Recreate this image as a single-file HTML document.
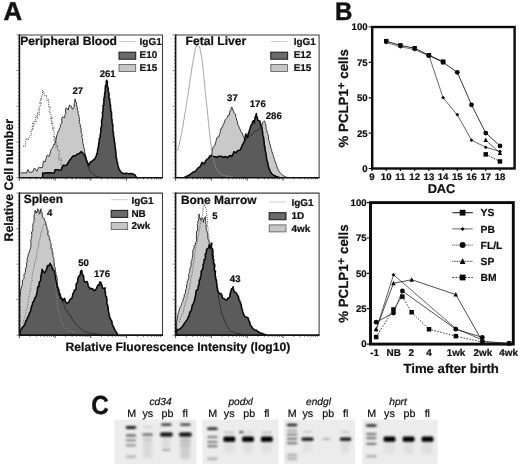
<!DOCTYPE html>
<html lang="en">
<head>
<meta charset="utf-8">
<title>Figure</title>
<style>
html,body{margin:0;padding:0;background:#fff;}
body{width:520px;height:464px;overflow:hidden;}
svg{display:block;text-rendering:geometricPrecision;}
text{stroke:#111;stroke-width:0.22px;}
</style>
</head>
<body>
<svg width="520" height="464" viewBox="0 0 520 464">
<defs><filter id="bl" x="-30%" y="-100%" width="160%" height="300%"><feGaussianBlur stdDeviation="1.0"/></filter><filter id="bl2" x="-5%" y="-5%" width="110%" height="110%"><feGaussianBlur stdDeviation="0.6"/></filter><filter id="bl3" x="-40%" y="-30%" width="180%" height="160%"><feGaussianBlur stdDeviation="1.6"/></filter></defs>
<rect width="520" height="464" fill="#ffffff"/>
<g font-family='"Liberation Sans", Arial, Helvetica, sans-serif' fill="#111">
<path d="M20.8 173.1 L22.7 172.8 L24.6 172.8 L26.5 173.0 L27.3 171.0 L28.0 169.6 L28.7 171.1 L29.5 172.3 L30.9 172.2 L32.3 172.1 L33.2 170.9 L33.7 169.0 L34.6 168.0 L35.7 169.2 L36.6 171.3 L37.7 169.8 L38.4 167.7 L39.7 167.3 L40.9 167.7 L42.4 167.5 L42.8 165.8 L43.0 163.8 L43.3 162.1 L43.9 161.0 L45.4 161.7 L45.6 160.3 L46.2 158.5 L46.6 156.5 L47.3 155.1 L49.1 156.5 L49.7 155.2 L50.1 153.1 L50.6 151.4 L51.1 149.4 L52.2 148.3 L53.1 146.5 L53.5 144.7 L54.6 144.5 L55.1 143.0 L55.6 141.3 L56.1 139.4 L56.4 137.0 L56.9 135.1 L57.5 133.5 L57.9 131.4 L59.1 130.8 L59.3 128.3 L60.3 127.4 L60.5 124.7 L61.5 123.9 L61.9 121.9 L61.7 118.5 L62.3 117.1 L64.8 117.6 L64.9 114.5 L65.8 113.7 L65.6 110.9 L65.6 108.5 L66.5 107.8 L68.2 110.0 L68.9 107.0 L69.4 105.1 L71.3 106.3 L72.5 109.3 L74.3 107.0 L74.1 103.8 L74.6 102.5 L74.8 100.6 L75.1 98.9 L75.6 102.0 L76.5 102.4 L76.4 104.7 L76.8 106.1 L77.4 107.5 L77.3 110.4 L78.2 111.2 L78.0 113.8 L78.8 114.4 L78.8 116.5 L79.3 117.8 L79.5 119.5 L79.2 122.3 L79.6 123.6 L80.4 124.4 L80.2 127.0 L81.0 127.6 L81.1 129.6 L81.1 132.1 L81.5 133.5 L82.2 134.5 L81.7 137.5 L82.5 138.3 L82.7 140.1 L82.6 142.5 L83.2 143.9 L83.5 145.8 L83.9 147.5 L84.4 149.4 L84.6 151.9 L85.2 153.4 L85.4 155.7 L85.9 157.2 L86.2 159.1 L86.3 161.4 L87.0 162.5 L87.4 164.2 L87.7 166.0 L88.4 167.1 L89.1 168.5 L89.7 170.7 L90.5 172.2 L92.1 173.2 L93.5 174.6 L95.3 175.8 L97.2 176.8 L98.7 176.8 L100.1 177.4 L101.5 177.7 L101.5 177.7 L20.8 177.7 Z" fill="#c9c9c9" stroke="none"/>
<path d="M23.1 146.5 L24.1 145.7 L25.2 146.0 L25.8 144.5 L25.5 141.3 L25.8 139.6 L26.8 139.8 L27.2 138.2 L28.4 139.1 L29.2 137.9 L30.0 136.5 L30.9 135.3 L31.4 134.2 L31.0 131.3 L31.7 131.0 L31.6 128.8 L33.1 129.9 L32.1 125.9 L33.6 127.1 L32.8 123.4 L34.0 124.1 L34.1 121.6 L34.8 120.8 L36.0 121.4 L35.4 116.9 L36.0 115.9 L37.7 117.9 L37.5 115.3 L37.3 112.5 L39.0 114.5 L39.4 113.1 L38.5 108.9 L39.4 108.8 L39.2 106.7 L39.7 105.9 L40.4 105.6 L39.9 102.9 L41.0 103.2 L40.2 100.0 L40.6 99.1 L41.8 99.7 L41.4 97.2 L41.8 96.1 L42.4 95.5 L42.5 94.0 L42.7 92.5 L42.5 90.1 L44.1 93.7 L44.9 95.8 L44.9 95.9 L45.8 95.9 L46.6 95.9 L46.9 97.0 L46.8 99.4 L47.1 100.5 L48.3 99.9 L48.5 101.6 L48.6 103.2 L48.7 105.0 L48.6 107.2 L49.3 107.4 L50.2 107.3 L49.2 111.0 L50.0 111.1 L50.1 112.6 L50.8 113.0 L50.7 114.9 L51.0 116.1 L50.6 118.5 L51.9 117.8 L51.4 120.4 L52.2 120.6 L51.6 123.4 L52.9 122.7 L52.8 124.7 L52.9 126.2 L52.6 128.4 L53.8 127.9 L53.4 130.4 L54.0 130.9 L54.2 132.4 L54.1 134.3 L53.6 137.0 L54.6 136.9 L54.2 139.6 L55.6 138.5 L54.7 142.1 L55.9 141.6 L56.5 142.2 L56.0 145.3 L56.1 147.1 L57.8 145.3 L57.7 147.4 L57.3 150.3 L58.2 150.2 L58.7 151.1 L59.3 151.6 L59.6 152.9 L58.9 156.0 L58.7 158.4 L58.9 159.7 L60.1 159.2 L61.2 158.7 L61.2 160.9 L60.9 163.7 L61.2 165.0 L62.1 165.5 L63.3 164.9 L63.4 167.2 L64.1 168.1 L64.9 169.8 L66.2 168.9 L66.4 173.4 L67.8 174.0 L69.5 170.2 L70.5 171.5 L71.3 175.6 L72.7 173.9" fill="none" stroke="#6e6e6e" stroke-width="1.15" stroke-dasharray="1.1 1.0"/>
<path d="M42.7 177.7 L42.7 176.1 L42.7 174.7 L42.7 173.1 L44.3 173.3 L46.0 172.8 L47.6 172.9 L49.3 172.8 L50.9 172.9 L52.6 173.3 L54.2 172.8 L54.7 171.5 L55.0 169.8 L56.6 169.7 L58.1 169.8 L59.6 170.2 L61.2 170.0 L61.7 168.2 L62.4 167.0 L63.1 165.6 L65.1 165.6 L67.0 164.8 L68.0 163.0 L69.0 161.3 L70.0 159.9 L71.0 158.8 L71.9 157.3 L73.7 155.7 L75.6 155.7 L77.3 154.2 L79.1 153.6 L80.2 152.6 L81.3 151.6 L82.4 152.5 L83.4 153.7 L84.4 155.1 L85.5 156.5 L85.9 158.8 L86.6 160.3 L87.2 162.0 L88.1 163.6 L88.8 165.3 L89.8 163.9 L90.5 161.8 L91.8 161.5 L92.9 160.3 L94.8 158.8 L95.4 157.6 L96.1 156.6 L96.5 154.9 L97.0 153.6 L97.4 152.2 L97.6 150.4 L97.9 148.6 L98.4 147.4 L98.5 145.6 L98.7 144.0 L98.9 142.4 L99.3 140.9 L99.3 139.1 L99.9 138.0 L100.3 136.8 L100.2 134.7 L100.6 133.4 L101.0 132.1 L100.7 129.6 L100.9 128.0 L101.5 126.9 L101.7 125.1 L101.7 123.2 L101.6 120.9 L101.9 119.4 L102.4 118.1 L102.5 116.5 L102.7 114.7 L102.4 112.4 L103.0 111.5 L102.9 109.3 L103.3 108.1 L103.0 105.7 L103.8 105.1 L103.7 102.9 L104.0 101.4 L103.8 99.0 L104.3 97.9 L104.5 96.2 L104.7 94.5 L104.8 92.4 L105.3 91.2 L105.2 88.9 L105.4 87.1 L105.6 85.2 L106.4 84.4 L106.2 81.8 L106.7 80.3 L107.4 81.8 L107.2 84.2 L107.4 85.7 L107.6 87.3 L108.3 88.2 L108.2 90.4 L108.5 92.0 L108.9 93.3 L109.2 94.9 L108.7 97.9 L109.6 98.4 L109.7 100.4 L110.0 102.1 L109.9 104.3 L110.6 105.3 L110.5 107.6 L110.8 109.1 L110.7 111.4 L111.5 112.0 L111.5 114.1 L111.6 116.0 L111.5 118.2 L112.0 119.4 L112.1 121.0 L112.2 122.9 L112.6 124.2 L112.9 125.6 L112.8 127.8 L112.7 130.0 L113.1 131.6 L113.5 132.9 L113.5 135.1 L113.6 137.0 L114.2 138.2 L114.2 140.3 L114.5 141.7 L114.7 143.2 L114.9 144.9 L115.1 146.5 L115.3 148.2 L115.6 149.6 L115.7 151.8 L116.0 153.4 L116.0 155.7 L116.3 157.5 L116.7 158.9 L116.8 161.2 L117.4 162.5 L117.7 164.4 L118.1 166.0 L118.5 167.4 L118.9 168.9 L119.7 170.3 L120.6 171.4 L121.5 172.7 L122.6 173.1 L124.2 173.7 L125.9 173.4 L127.5 173.5 L129.0 173.7 L130.6 173.5 L132.1 173.7 L133.4 174.3 L134.7 174.8 L135.8 176.4 L136.7 177.7 L136.7 177.7 L42.7 177.7 Z" fill="#5b5b5b" stroke="none"/>
<path d="M20.8 173.1 L22.7 172.8 L24.6 172.8 L26.5 173.0 L27.3 171.0 L28.0 169.6 L28.7 171.1 L29.5 172.3 L30.9 172.2 L32.3 172.1 L33.2 170.9 L33.7 169.0 L34.6 168.0 L35.7 169.2 L36.6 171.3 L37.7 169.8 L38.4 167.7 L39.7 167.3 L40.9 167.7 L42.4 167.5 L42.8 165.8 L43.0 163.8 L43.3 162.1 L43.9 161.0 L45.4 161.7 L45.6 160.3 L46.2 158.5 L46.6 156.5 L47.3 155.1 L49.1 156.5 L49.7 155.2 L50.1 153.1 L50.6 151.4 L51.1 149.4 L52.2 148.3 L53.1 146.5 L53.5 144.7 L54.6 144.5 L55.1 143.0 L55.6 141.3 L56.1 139.4 L56.4 137.0 L56.9 135.1 L57.5 133.5 L57.9 131.4 L59.1 130.8 L59.3 128.3 L60.3 127.4 L60.5 124.7 L61.5 123.9 L61.9 121.9 L61.7 118.5 L62.3 117.1 L64.8 117.6 L64.9 114.5 L65.8 113.7 L65.6 110.9 L65.6 108.5 L66.5 107.8 L68.2 110.0 L68.9 107.0 L69.4 105.1 L71.3 106.3 L72.5 109.3 L74.3 107.0 L74.1 103.8 L74.6 102.5 L74.8 100.6 L75.1 98.9 L75.6 102.0 L76.5 102.4 L76.4 104.7 L76.8 106.1 L77.4 107.5 L77.3 110.4 L78.2 111.2 L78.0 113.8 L78.8 114.4 L78.8 116.5 L79.3 117.8 L79.5 119.5 L79.2 122.3 L79.6 123.6 L80.4 124.4 L80.2 127.0 L81.0 127.6 L81.1 129.6 L81.1 132.1 L81.5 133.5 L82.2 134.5 L81.7 137.5 L82.5 138.3 L82.7 140.1 L82.6 142.5 L83.2 143.9 L83.5 145.8 L83.9 147.5 L84.4 149.4 L84.6 151.9 L85.2 153.4 L85.4 155.7 L85.9 157.2 L86.2 159.1 L86.3 161.4 L87.0 162.5 L87.4 164.2 L87.7 166.0 L88.4 167.1 L89.1 168.5 L89.7 170.7 L90.5 172.2 L92.1 173.2 L93.5 174.6 L95.3 175.8 L97.2 176.8 L98.7 176.8 L100.1 177.4 L101.5 177.7" fill="none" stroke="#2c2c2c" stroke-width="0.95" stroke-linejoin="round"/>
<path d="M42.7 177.7 L42.7 176.1 L42.7 174.7 L42.7 173.1 L44.3 173.3 L46.0 172.8 L47.6 172.9 L49.3 172.8 L50.9 172.9 L52.6 173.3 L54.2 172.8 L54.7 171.5 L55.0 169.8 L56.6 169.7 L58.1 169.8 L59.6 170.2 L61.2 170.0 L61.7 168.2 L62.4 167.0 L63.1 165.6 L65.1 165.6 L67.0 164.8 L68.0 163.0 L69.0 161.3 L70.0 159.9 L71.0 158.8 L71.9 157.3 L73.7 155.7 L75.6 155.7 L77.3 154.2 L79.1 153.6 L80.2 152.6 L81.3 151.6 L82.4 152.5 L83.4 153.7 L84.4 155.1 L85.5 156.5 L85.9 158.8 L86.6 160.3 L87.2 162.0 L88.1 163.6 L88.8 165.3 L89.8 163.9 L90.5 161.8 L91.8 161.5 L92.9 160.3 L94.8 158.8 L95.4 157.6 L96.1 156.6 L96.5 154.9 L97.0 153.6 L97.4 152.2 L97.6 150.4 L97.9 148.6 L98.4 147.4 L98.5 145.6 L98.7 144.0 L98.9 142.4 L99.3 140.9 L99.3 139.1 L99.9 138.0 L100.3 136.8 L100.2 134.7 L100.6 133.4 L101.0 132.1 L100.7 129.6 L100.9 128.0 L101.5 126.9 L101.7 125.1 L101.7 123.2 L101.6 120.9 L101.9 119.4 L102.4 118.1 L102.5 116.5 L102.7 114.7 L102.4 112.4 L103.0 111.5 L102.9 109.3 L103.3 108.1 L103.0 105.7 L103.8 105.1 L103.7 102.9 L104.0 101.4 L103.8 99.0 L104.3 97.9 L104.5 96.2 L104.7 94.5 L104.8 92.4 L105.3 91.2 L105.2 88.9 L105.4 87.1 L105.6 85.2 L106.4 84.4 L106.2 81.8 L106.7 80.3 L107.4 81.8 L107.2 84.2 L107.4 85.7 L107.6 87.3 L108.3 88.2 L108.2 90.4 L108.5 92.0 L108.9 93.3 L109.2 94.9 L108.7 97.9 L109.6 98.4 L109.7 100.4 L110.0 102.1 L109.9 104.3 L110.6 105.3 L110.5 107.6 L110.8 109.1 L110.7 111.4 L111.5 112.0 L111.5 114.1 L111.6 116.0 L111.5 118.2 L112.0 119.4 L112.1 121.0 L112.2 122.9 L112.6 124.2 L112.9 125.6 L112.8 127.8 L112.7 130.0 L113.1 131.6 L113.5 132.9 L113.5 135.1 L113.6 137.0 L114.2 138.2 L114.2 140.3 L114.5 141.7 L114.7 143.2 L114.9 144.9 L115.1 146.5 L115.3 148.2 L115.6 149.6 L115.7 151.8 L116.0 153.4 L116.0 155.7 L116.3 157.5 L116.7 158.9 L116.8 161.2 L117.4 162.5 L117.7 164.4 L118.1 166.0 L118.5 167.4 L118.9 168.9 L119.7 170.3 L120.6 171.4 L121.5 172.7 L122.6 173.1 L124.2 173.7 L125.9 173.4 L127.5 173.5 L129.0 173.7 L130.6 173.5 L132.1 173.7 L133.4 174.3 L134.7 174.8 L135.8 176.4 L136.7 177.7" fill="none" stroke="#0a0a0a" stroke-width="1.6" stroke-linejoin="round"/>
<path d="M19.4 34.9 H162.5 V177.7" fill="none" stroke="#3c3c3c" stroke-width="1.05"/>
<path d="M19.4 34.4 V177.7 H163.0" fill="none" stroke="#111" stroke-width="1.6"/>
<path d="M19.4 177.7 v3.0 M30.1 177.7 v1.6 M36.4 177.7 v1.6 M40.9 177.7 v1.6 M44.4 177.7 v1.6 M47.2 177.7 v1.6 M49.6 177.7 v1.6 M51.6 177.7 v1.6 M53.5 177.7 v1.6 M55.1 177.7 v3.0 M65.8 177.7 v1.6 M72.1 177.7 v1.6 M76.6 177.7 v1.6 M80.1 177.7 v1.6 M82.9 177.7 v1.6 M85.3 177.7 v1.6 M87.3 177.7 v1.6 M89.2 177.7 v1.6 M90.8 177.7 v3.0 M101.5 177.7 v1.6 M107.8 177.7 v1.6 M112.3 177.7 v1.6 M115.8 177.7 v1.6 M118.6 177.7 v1.6 M121.0 177.7 v1.6 M123.0 177.7 v1.6 M124.9 177.7 v1.6 M126.5 177.7 v3.0 M137.2 177.7 v1.6 M143.5 177.7 v1.6 M148.0 177.7 v1.6 M151.5 177.7 v1.6 M154.3 177.7 v1.6 M156.7 177.7 v1.6 M158.7 177.7 v1.6 M160.6 177.7 v1.6 " stroke="#222" stroke-width="0.8" fill="none"/>
<path d="M19.4 177.7 h-3.0 M19.4 174.1 h-1.6 M19.4 170.6 h-1.6 M19.4 167.0 h-1.6 M19.4 163.4 h-1.6 M19.4 159.8 h-1.6 M19.4 156.3 h-1.6 M19.4 152.7 h-1.6 M19.4 149.1 h-1.6 M19.4 145.6 h-1.6 M19.4 142.0 h-3.0 M19.4 138.4 h-1.6 M19.4 134.9 h-1.6 M19.4 131.3 h-1.6 M19.4 127.7 h-1.6 M19.4 124.2 h-1.6 M19.4 120.6 h-1.6 M19.4 117.0 h-1.6 M19.4 113.4 h-1.6 M19.4 109.9 h-1.6 M19.4 106.3 h-3.0 M19.4 102.7 h-1.6 M19.4 99.2 h-1.6 M19.4 95.6 h-1.6 M19.4 92.0 h-1.6 M19.4 88.5 h-1.6 M19.4 84.9 h-1.6 M19.4 81.3 h-1.6 M19.4 77.7 h-1.6 M19.4 74.2 h-1.6 M19.4 70.6 h-3.0 M19.4 67.0 h-1.6 M19.4 63.5 h-1.6 M19.4 59.9 h-1.6 M19.4 56.3 h-1.6 M19.4 52.8 h-1.6 M19.4 49.2 h-1.6 M19.4 45.6 h-1.6 M19.4 42.0 h-1.6 M19.4 38.5 h-1.6 M19.4 34.9 h-3.0 " stroke="#333" stroke-width="0.6" fill="none"/>
<text x="20.2" y="45.3" font-size="12.1" font-weight="bold" font-style="normal" text-anchor="start" >Peripheral Blood</text>
<line x1="119.0" y1="41.5" x2="135.7" y2="41.5" stroke="#cccccc" stroke-width="1"/>
<rect x="119.0" y="52.2" width="16.7" height="7" fill="#6a6a6a" stroke="#222" stroke-width="1.1"/>
<rect x="119.0" y="64.4" width="16.7" height="7" fill="#c6c6c6" stroke="#555" stroke-width="0.8"/>
<text x="139.6" y="45.3" font-size="9.95" font-weight="bold" font-style="normal" text-anchor="start" >IgG1</text>
<text x="139.6" y="58.3" font-size="9.95" font-weight="bold" font-style="normal" text-anchor="start" >E10</text>
<text x="139.6" y="71.2" font-size="9.95" font-weight="bold" font-style="normal" text-anchor="start" >E15</text>
<text x="77.8" y="93.6" font-size="9.6" font-weight="bold" font-style="normal" text-anchor="middle" >27</text>
<text x="107.7" y="77.0" font-size="9.6" font-weight="bold" font-style="normal" text-anchor="middle" >261</text>
<path d="M211.3 156.3 L211.5 154.4 L212.0 153.1 L212.3 151.4 L212.5 149.6 L212.7 147.7 L214.0 146.7 L215.0 145.1 L215.4 143.1 L216.0 141.5 L216.4 139.7 L216.8 137.8 L218.0 137.1 L219.2 136.4 L219.3 134.3 L220.1 133.6 L220.3 131.5 L220.7 130.0 L221.0 128.3 L222.2 127.7 L222.8 125.6 L223.6 124.1 L224.5 122.2 L225.2 119.6 L226.5 118.5 L227.6 117.2 L228.1 115.2 L229.3 115.1 L229.6 112.8 L230.0 110.9 L231.0 110.3 L231.1 107.7 L232.1 107.3 L232.4 108.2 L232.9 109.9 L233.5 111.2 L234.0 113.0 L234.8 113.5 L235.7 114.3 L235.6 117.2 L236.4 117.9 L236.5 120.2 L237.3 121.1 L237.6 123.9 L238.3 125.5 L239.1 127.1 L239.8 128.8 L240.6 130.4 L241.2 132.3 L242.2 132.9 L242.8 134.8 L243.3 136.7 L244.2 137.3 L244.4 139.6 L245.0 140.9 L246.4 138.8 L247.6 137.1 L249.1 136.2 L250.5 135.0 L252.1 135.0 L253.3 133.0 L254.6 131.4 L256.0 130.6 L257.3 130.7 L258.5 130.1 L259.3 128.2 L260.4 127.1 L261.2 125.8 L262.1 124.7 L262.6 122.4 L263.6 121.6 L264.6 120.9 L264.9 122.6 L265.5 123.7 L265.8 125.3 L266.1 127.1 L266.1 129.3 L266.8 130.3 L267.0 132.1 L267.5 133.4 L268.0 134.8 L268.4 136.4 L268.5 138.9 L268.9 140.5 L269.5 141.8 L269.8 143.8 L270.3 145.3 L270.6 147.0 L271.0 148.5 L271.6 149.5 L271.8 151.5 L272.3 152.9 L272.8 154.1 L273.2 155.8 L273.7 157.0 L274.2 158.4 L274.7 159.9 L275.1 161.9 L275.8 163.0 L276.4 164.5 L276.9 166.8 L277.6 168.5 L278.4 170.1 L279.4 171.9 L280.5 173.1 L281.6 174.2 L282.6 175.3 L284.2 176.2 L285.8 177.0 L287.9 177.5 L287.9 177.7 L211.3 177.7 Z" fill="#c9c9c9" stroke="none"/>
<path d="M184.2 177.5 L185.8 176.8 L187.4 176.0 L189.0 175.2 L190.6 174.1 L191.6 173.3 L192.7 172.2 L194.3 171.7 L195.8 170.9 L196.9 169.4 L198.0 167.9 L200.1 166.7 L200.8 165.5 L201.4 163.8 L202.1 162.4 L204.3 164.0 L205.0 162.3 L205.7 160.9 L206.5 159.7 L208.5 158.3 L209.5 156.5 L210.8 155.6 L212.3 155.9 L213.8 156.5 L215.4 156.7 L217.0 157.4 L218.6 156.2 L220.2 156.3 L221.8 156.5 L223.4 157.5 L225.5 156.5 L226.6 157.0 L227.7 157.6 L228.6 156.6 L229.8 155.5 L231.8 156.5 L232.5 154.9 L233.3 153.7 L233.8 151.8 L236.1 152.8 L237.1 151.4 L238.3 150.3 L240.3 150.0 L240.9 148.5 L241.6 146.9 L242.2 145.3 L243.0 143.8 L243.8 142.3 L244.6 140.8 L244.8 138.7 L245.2 137.2 L245.5 135.5 L245.9 134.0 L246.7 136.1 L247.7 137.4 L248.0 135.2 L248.4 133.2 L249.1 132.0 L249.5 130.1 L250.2 128.5 L250.7 126.1 L251.5 124.7 L252.2 123.7 L252.5 121.9 L253.2 120.9 L253.9 120.9 L254.3 123.2 L254.5 120.5 L255.0 119.2 L255.0 117.3 L255.8 116.5 L256.0 114.8 L256.4 113.5 L256.4 114.9 L256.8 116.7 L257.4 117.8 L257.6 119.9 L258.8 120.8 L260.0 121.2 L260.2 123.7 L261.0 124.8 L261.6 126.4 L262.0 128.2 L262.2 130.4 L262.7 132.0 L262.7 134.5 L262.9 136.1 L263.5 137.1 L263.7 138.6 L263.8 140.5 L264.1 141.8 L264.2 143.7 L264.4 145.6 L264.9 146.9 L265.1 148.7 L265.2 150.7 L265.7 152.1 L266.0 153.7 L266.1 155.7 L266.5 157.4 L266.7 159.1 L267.1 160.7 L267.6 162.4 L268.0 164.4 L268.3 166.3 L268.8 168.0 L269.5 169.3 L270.0 170.7 L270.6 172.2 L271.8 173.7 L273.1 175.0 L274.7 175.7 L276.2 176.5 L277.8 176.9 L279.4 177.5 L279.4 177.7 L184.2 177.7 Z" fill="#5b5b5b" stroke="none"/>
<path d="M211.3 156.3 L211.5 154.4 L212.0 153.1 L212.3 151.4 L212.5 149.6 L212.7 147.7 L214.0 146.7 L215.0 145.1 L215.4 143.1 L216.0 141.5 L216.4 139.7 L216.8 137.8 L218.0 137.1 L219.2 136.4 L219.3 134.3 L220.1 133.6 L220.3 131.5 L220.7 130.0 L221.0 128.3 L222.2 127.7 L222.8 125.6 L223.6 124.1 L224.5 122.2 L225.2 119.6 L226.5 118.5 L227.6 117.2 L228.1 115.2 L229.3 115.1 L229.6 112.8 L230.0 110.9 L231.0 110.3 L231.1 107.7 L232.1 107.3 L232.4 108.2 L232.9 109.9 L233.5 111.2 L234.0 113.0 L234.8 113.5 L235.7 114.3 L235.6 117.2 L236.4 117.9 L236.5 120.2 L237.3 121.1 L237.6 123.9 L238.3 125.5 L239.1 127.1 L239.8 128.8 L240.6 130.4 L241.2 132.3 L242.2 132.9 L242.8 134.8 L243.3 136.7 L244.2 137.3 L244.4 139.6 L245.0 140.9 L246.4 138.8 L247.6 137.1 L249.1 136.2 L250.5 135.0 L252.1 135.0 L253.3 133.0 L254.6 131.4 L256.0 130.6 L257.3 130.7 L258.5 130.1 L259.3 128.2 L260.4 127.1 L261.2 125.8 L262.1 124.7 L262.6 122.4 L263.6 121.6 L264.6 120.9 L264.9 122.6 L265.5 123.7 L265.8 125.3 L266.1 127.1 L266.1 129.3 L266.8 130.3 L267.0 132.1 L267.5 133.4 L268.0 134.8 L268.4 136.4 L268.5 138.9 L268.9 140.5 L269.5 141.8 L269.8 143.8 L270.3 145.3 L270.6 147.0 L271.0 148.5 L271.6 149.5 L271.8 151.5 L272.3 152.9 L272.8 154.1 L273.2 155.8 L273.7 157.0 L274.2 158.4 L274.7 159.9 L275.1 161.9 L275.8 163.0 L276.4 164.5 L276.9 166.8 L277.6 168.5 L278.4 170.1 L279.4 171.9 L280.5 173.1 L281.6 174.2 L282.6 175.3 L284.2 176.2 L285.8 177.0 L287.9 177.5" fill="none" stroke="#2c2c2c" stroke-width="0.95" stroke-linejoin="round"/>
<path d="M184.2 177.5 L185.8 176.8 L187.4 176.0 L189.0 175.2 L190.6 174.1 L191.6 173.3 L192.7 172.2 L194.3 171.7 L195.8 170.9 L196.9 169.4 L198.0 167.9 L200.1 166.7 L200.8 165.5 L201.4 163.8 L202.1 162.4 L204.3 164.0 L205.0 162.3 L205.7 160.9 L206.5 159.7 L208.5 158.3 L209.5 156.5 L210.8 155.6 L212.3 155.9 L213.8 156.5 L215.4 156.7 L217.0 157.4 L218.6 156.2 L220.2 156.3 L221.8 156.5 L223.4 157.5 L225.5 156.5 L226.6 157.0 L227.7 157.6 L228.6 156.6 L229.8 155.5 L231.8 156.5 L232.5 154.9 L233.3 153.7 L233.8 151.8 L236.1 152.8 L237.1 151.4 L238.3 150.3 L240.3 150.0 L240.9 148.5 L241.6 146.9 L242.2 145.3 L243.0 143.8 L243.8 142.3 L244.6 140.8 L244.8 138.7 L245.2 137.2 L245.5 135.5 L245.9 134.0 L246.7 136.1 L247.7 137.4 L248.0 135.2 L248.4 133.2 L249.1 132.0 L249.5 130.1 L250.2 128.5 L250.7 126.1 L251.5 124.7 L252.2 123.7 L252.5 121.9 L253.2 120.9 L253.9 120.9 L254.3 123.2 L254.5 120.5 L255.0 119.2 L255.0 117.3 L255.8 116.5 L256.0 114.8 L256.4 113.5 L256.4 114.9 L256.8 116.7 L257.4 117.8 L257.6 119.9 L258.8 120.8 L260.0 121.2 L260.2 123.7 L261.0 124.8 L261.6 126.4 L262.0 128.2 L262.2 130.4 L262.7 132.0 L262.7 134.5 L262.9 136.1 L263.5 137.1 L263.7 138.6 L263.8 140.5 L264.1 141.8 L264.2 143.7 L264.4 145.6 L264.9 146.9 L265.1 148.7 L265.2 150.7 L265.7 152.1 L266.0 153.7 L266.1 155.7 L266.5 157.4 L266.7 159.1 L267.1 160.7 L267.6 162.4 L268.0 164.4 L268.3 166.3 L268.8 168.0 L269.5 169.3 L270.0 170.7 L270.6 172.2 L271.8 173.7 L273.1 175.0 L274.7 175.7 L276.2 176.5 L277.8 176.9 L279.4 177.5" fill="none" stroke="#0a0a0a" stroke-width="1.6" stroke-linejoin="round"/>
<path d="M177.3 151.1 L177.9 149.8 L178.2 147.6 L178.7 145.8 L179.4 144.8 L179.5 142.7 L179.8 141.0 L180.3 139.6 L180.6 137.8 L181.1 136.4 L181.2 134.4 L181.8 133.1 L181.9 131.1 L182.2 129.6 L182.6 128.1 L182.8 126.3 L183.2 124.8 L183.4 123.0 L183.5 121.0 L184.1 119.8 L184.2 118.0 L184.4 116.2 L184.6 114.5 L185.1 113.2 L185.3 111.4 L185.7 109.9 L185.9 108.1 L186.2 106.6 L186.3 104.7 L186.7 103.1 L186.9 101.4 L187.1 99.6 L187.5 98.3 L187.6 96.3 L188.0 94.9 L188.3 93.3 L188.5 91.5 L188.6 89.5 L189.1 88.3 L189.3 86.5 L189.4 84.6 L189.6 82.9 L190.0 81.5 L190.0 79.5 L190.5 78.3 L190.6 76.5 L190.9 74.8 L191.1 73.1 L191.4 71.6 L191.7 70.0 L191.8 68.1 L192.1 66.4 L192.5 64.9 L192.7 63.1 L193.1 61.6 L193.3 59.9 L193.6 58.2 L193.9 56.6 L194.2 54.9 L194.4 53.0 L195.0 51.9 L195.2 49.8 L195.5 48.2 L195.9 46.5 L197.1 46.2 L198.3 45.4 L199.0 46.6 L199.9 48.2 L200.3 49.7 L200.4 51.8 L201.0 53.0 L201.2 54.9 L201.6 56.5 L201.8 58.1 L202.0 59.8 L202.2 61.4 L202.5 62.9 L202.6 64.9 L202.7 66.7 L202.9 68.2 L203.3 69.7 L203.3 71.6 L203.7 72.9 L203.7 74.8 L203.8 76.6 L203.9 78.3 L204.2 79.8 L204.2 81.6 L204.5 83.1 L204.7 84.8 L204.8 86.5 L204.9 88.3 L205.1 89.9 L205.4 91.4 L205.4 93.2 L205.6 94.8 L205.9 96.3 L205.9 98.2 L206.1 99.8 L206.3 101.4 L206.4 103.2 L206.8 104.4 L206.8 106.3 L207.0 108.1 L207.2 109.6 L207.4 111.1 L207.4 113.1 L207.7 114.6 L207.9 116.2 L208.1 117.7 L208.0 119.8 L208.4 121.2 L208.6 122.7 L208.7 124.4 L208.9 126.1 L208.9 128.1 L209.3 129.4 L209.4 131.1 L209.6 132.7 L209.7 134.5 L209.9 136.0 L210.1 137.8 L210.2 139.6 L210.3 141.4 L210.6 143.0 L211.0 144.3 L211.1 146.1 L211.2 148.0 L211.6 149.2 L211.8 151.0 L212.0 152.8 L212.3 154.4 L212.5 156.2 L212.8 157.9 L213.2 159.4 L213.8 160.9 L214.3 162.6 L214.9 164.2 L215.5 165.8 L215.9 167.8 L216.6 169.2 L217.5 171.1 L218.6 172.2 L219.9 173.0 L221.4 174.2 L223.1 175.2 L224.8 175.5 L226.4 176.3 L228.1 176.0 L229.7 177.1 L231.4 176.4 L233.1 177.3 L234.7 177.8 L236.4 177.3" fill="none" stroke="#8c8c8c" stroke-width="0.8" />
<path d="M175.6 34.9 H319.1 V177.7" fill="none" stroke="#3c3c3c" stroke-width="1.05"/>
<path d="M175.6 34.4 V177.7 H319.6" fill="none" stroke="#111" stroke-width="1.6"/>
<path d="M175.6 177.7 v3.0 M186.4 177.7 v1.6 M192.7 177.7 v1.6 M197.2 177.7 v1.6 M200.6 177.7 v1.6 M203.5 177.7 v1.6 M205.9 177.7 v1.6 M207.9 177.7 v1.6 M209.8 177.7 v1.6 M211.4 177.7 v3.0 M222.2 177.7 v1.6 M228.5 177.7 v1.6 M233.0 177.7 v1.6 M236.4 177.7 v1.6 M239.3 177.7 v1.6 M241.7 177.7 v1.6 M243.7 177.7 v1.6 M245.6 177.7 v1.6 M247.2 177.7 v3.0 M258.0 177.7 v1.6 M264.3 177.7 v1.6 M268.8 177.7 v1.6 M272.2 177.7 v1.6 M275.1 177.7 v1.6 M277.5 177.7 v1.6 M279.5 177.7 v1.6 M281.4 177.7 v1.6 M283.0 177.7 v3.0 M293.8 177.7 v1.6 M300.1 177.7 v1.6 M304.6 177.7 v1.6 M308.0 177.7 v1.6 M310.9 177.7 v1.6 M313.3 177.7 v1.6 M315.3 177.7 v1.6 M317.2 177.7 v1.6 " stroke="#222" stroke-width="0.8" fill="none"/>
<path d="M175.6 177.7 h-3.0 M175.6 174.1 h-1.6 M175.6 170.6 h-1.6 M175.6 167.0 h-1.6 M175.6 163.4 h-1.6 M175.6 159.8 h-1.6 M175.6 156.3 h-1.6 M175.6 152.7 h-1.6 M175.6 149.1 h-1.6 M175.6 145.6 h-1.6 M175.6 142.0 h-3.0 M175.6 138.4 h-1.6 M175.6 134.9 h-1.6 M175.6 131.3 h-1.6 M175.6 127.7 h-1.6 M175.6 124.2 h-1.6 M175.6 120.6 h-1.6 M175.6 117.0 h-1.6 M175.6 113.4 h-1.6 M175.6 109.9 h-1.6 M175.6 106.3 h-3.0 M175.6 102.7 h-1.6 M175.6 99.2 h-1.6 M175.6 95.6 h-1.6 M175.6 92.0 h-1.6 M175.6 88.5 h-1.6 M175.6 84.9 h-1.6 M175.6 81.3 h-1.6 M175.6 77.7 h-1.6 M175.6 74.2 h-1.6 M175.6 70.6 h-3.0 M175.6 67.0 h-1.6 M175.6 63.5 h-1.6 M175.6 59.9 h-1.6 M175.6 56.3 h-1.6 M175.6 52.8 h-1.6 M175.6 49.2 h-1.6 M175.6 45.6 h-1.6 M175.6 42.0 h-1.6 M175.6 38.5 h-1.6 M175.6 34.9 h-3.0 " stroke="#333" stroke-width="0.6" fill="none"/>
<text x="185.5" y="45.1" font-size="12.15" font-weight="bold" font-style="normal" text-anchor="start" >Fetal Liver</text>
<line x1="270.8" y1="41.5" x2="287.6" y2="41.5" stroke="#cccccc" stroke-width="1"/>
<rect x="270.8" y="52.2" width="16.8" height="7" fill="#6a6a6a" stroke="#222" stroke-width="1.1"/>
<rect x="270.8" y="64.4" width="16.8" height="7" fill="#c6c6c6" stroke="#555" stroke-width="0.8"/>
<text x="293.7" y="45.3" font-size="9.95" font-weight="bold" font-style="normal" text-anchor="start" >IgG1</text>
<text x="293.7" y="58.3" font-size="9.95" font-weight="bold" font-style="normal" text-anchor="start" >E12</text>
<text x="293.7" y="71.2" font-size="9.95" font-weight="bold" font-style="normal" text-anchor="start" >E15</text>
<text x="232.4" y="100.9" font-size="9.6" font-weight="bold" font-style="normal" text-anchor="middle" >37</text>
<text x="257.8" y="107.0" font-size="9.6" font-weight="bold" font-style="normal" text-anchor="middle" >176</text>
<text x="273.8" y="118.7" font-size="9.6" font-weight="bold" font-style="normal" text-anchor="middle" >286</text>
<path d="M19.8 334.6 L19.7 332.8 L19.7 331.0 L19.8 329.4 L19.8 327.7 L19.7 325.8 L19.7 324.1 L19.7 322.4 L19.9 320.9 L19.7 318.8 L19.9 317.4 L19.9 315.7 L19.6 313.6 L19.8 312.1 L19.8 310.3 L19.8 308.6 L20.0 307.3 L19.6 304.9 L19.5 303.1 L20.0 302.1 L19.7 299.9 L19.8 298.1 L20.0 296.6 L20.1 295.1 L20.6 294.1 L20.3 291.7 L20.7 290.0 L21.2 288.8 L21.5 287.1 L22.1 285.9 L22.4 284.1 L22.4 281.8 L22.7 279.9 L23.6 279.1 L24.1 277.6 L23.9 274.4 L24.8 273.8 L25.3 272.3 L25.6 270.2 L25.6 268.0 L26.4 267.2 L26.6 265.5 L26.5 263.0 L27.2 262.1 L27.1 259.8 L27.3 257.9 L27.9 256.7 L28.2 255.0 L28.6 253.4 L29.2 252.1 L29.7 250.7 L30.2 249.2 L30.6 247.5 L30.9 245.9 L31.0 243.8 L30.8 241.4 L30.8 239.6 L31.5 238.7 L31.6 236.9 L31.9 235.5 L31.6 233.0 L31.9 231.5 L32.8 230.9 L32.7 228.7 L33.0 227.2 L32.7 224.5 L33.2 223.3 L33.9 222.4 L33.9 220.2 L34.4 219.1 L33.9 216.2 L34.3 214.9 L34.9 213.8 L34.7 211.6 L35.3 210.4 L35.6 212.0 L36.6 213.0 L36.5 211.5 L37.8 212.0 L37.7 208.7 L38.8 210.3 L39.1 212.0 L39.3 214.2 L40.3 212.8 L40.5 210.4 L41.0 208.7 L41.1 211.1 L41.9 212.1 L42.2 214.2 L42.4 216.4 L43.0 218.1 L44.1 218.4 L44.7 220.1 L45.3 221.7 L45.8 224.9 L46.8 226.7 L46.8 228.6 L47.3 229.9 L48.0 230.7 L47.8 233.1 L47.8 235.1 L48.6 235.6 L49.2 236.7 L49.3 238.9 L49.8 240.4 L50.3 241.9 L50.8 243.3 L51.2 245.2 L50.9 248.2 L52.1 248.4 L52.0 251.0 L52.7 252.0 L53.0 253.7 L52.8 256.3 L53.5 257.2 L53.9 258.7 L53.9 260.8 L54.0 262.8 L54.4 264.2 L54.4 266.4 L55.1 267.4 L55.3 269.3 L55.4 271.3 L55.9 272.7 L56.0 274.8 L56.5 276.2 L57.1 277.5 L57.3 279.2 L57.1 281.7 L57.4 283.4 L57.6 285.3 L58.0 286.6 L58.3 288.2 L59.1 289.4 L59.2 292.1 L60.2 292.9 L60.5 295.1 L61.2 296.5 L61.6 298.6 L62.2 299.9 L62.8 301.6 L63.2 303.5 L63.9 304.8 L64.7 305.9 L65.1 308.0 L65.7 309.5 L66.5 310.9 L67.7 311.2 L68.3 313.2 L69.0 314.8 L70.1 315.3 L71.1 316.8 L72.0 319.1 L73.2 320.2 L74.2 321.8 L75.2 323.5 L76.4 324.4 L77.5 325.6 L78.6 327.0 L79.9 328.1 L81.3 329.5 L82.7 330.3 L84.1 331.3 L85.5 331.5 L86.9 332.4 L88.5 332.8 L90.1 333.0 L91.7 333.3 L93.3 333.8 L94.9 333.8 L96.5 334.0 L98.0 334.2 L99.6 334.6 L99.6 335.1 L19.8 335.1 Z" fill="#c9c9c9" stroke="none"/>
<path d="M19.7 334.6 L20.0 332.5 L20.3 330.5 L21.4 329.3 L22.4 327.4 L23.5 326.3 L24.4 325.0 L25.2 323.4 L25.7 321.1 L26.7 320.0 L27.3 318.4 L27.9 316.8 L28.7 315.9 L29.2 313.9 L29.8 312.3 L30.6 311.4 L30.9 309.4 L31.3 307.4 L31.8 305.8 L32.5 304.5 L32.7 302.3 L33.7 301.4 L34.4 299.9 L34.9 297.7 L35.8 296.7 L36.5 295.1 L36.8 292.7 L37.4 291.2 L37.5 288.5 L37.9 286.6 L39.1 286.4 L39.1 283.4 L39.5 281.7 L40.5 281.1 L40.8 279.2 L40.7 276.4 L41.3 275.1 L41.5 273.2 L41.9 271.5 L42.1 269.3 L43.5 271.8 L44.7 272.8 L45.6 271.4 L46.5 269.3 L47.1 267.5 L47.7 265.6 L49.1 265.6 L50.1 263.3 L50.4 264.4 L51.3 265.1 L51.8 266.7 L52.3 268.2 L53.2 270.1 L54.4 271.1 L54.6 273.4 L55.1 274.9 L55.4 276.4 L55.4 278.8 L55.9 280.0 L56.3 281.7 L56.7 283.1 L56.9 285.0 L57.1 286.9 L57.8 287.8 L58.4 289.1 L58.4 291.3 L59.0 292.7 L59.3 294.9 L60.2 295.4 L60.3 298.2 L61.8 298.3 L62.6 300.9 L63.6 299.6 L64.6 298.3 L65.2 301.0 L66.0 302.5 L67.0 303.4 L67.8 302.8 L69.0 302.0 L69.8 299.8 L70.9 298.8 L71.7 298.3 L72.3 296.9 L72.7 294.9 L73.1 293.3 L73.9 292.0 L74.4 290.1 L75.6 289.8 L76.1 288.4 L76.1 286.1 L76.2 283.9 L76.9 283.0 L77.6 282.2 L77.8 279.8 L78.1 277.8 L78.7 276.4 L79.7 275.8 L80.3 273.9 L80.7 271.4 L81.7 270.4 L81.9 272.0 L82.2 273.8 L82.8 275.0 L83.6 276.0 L83.7 278.5 L84.0 280.5 L84.5 282.3 L87.0 281.5 L87.4 282.4 L87.9 283.9 L88.2 286.0 L88.9 287.2 L90.0 288.6 L91.3 288.4 L92.9 289.1 L94.4 290.7 L95.4 290.0 L96.5 288.6 L97.3 286.3 L98.1 285.0 L99.4 285.3 L99.6 282.1 L101.0 282.6 L101.2 284.0 L102.0 285.4 L102.4 287.9 L103.8 288.5 L105.2 287.9 L104.8 291.3 L105.5 292.2 L105.4 294.4 L105.7 295.9 L106.4 296.7 L106.7 298.1 L107.0 299.9 L106.8 302.5 L107.1 304.3 L107.7 305.4 L108.0 307.0 L108.2 309.1 L108.4 311.2 L108.8 312.9 L109.2 314.7 L109.6 316.5 L110.1 317.9 L110.6 319.6 L111.4 320.4 L112.0 322.0 L112.2 324.3 L113.0 325.9 L113.7 327.4 L114.5 329.1 L115.5 330.8 L116.5 332.4 L117.6 334.6 L117.6 335.1 L19.7 335.1 Z" fill="#5b5b5b" stroke="none"/>
<path d="M19.8 334.6 L19.7 332.8 L19.7 331.0 L19.8 329.4 L19.8 327.7 L19.7 325.8 L19.7 324.1 L19.7 322.4 L19.9 320.9 L19.7 318.8 L19.9 317.4 L19.9 315.7 L19.6 313.6 L19.8 312.1 L19.8 310.3 L19.8 308.6 L20.0 307.3 L19.6 304.9 L19.5 303.1 L20.0 302.1 L19.7 299.9 L19.8 298.1 L20.0 296.6 L20.1 295.1 L20.6 294.1 L20.3 291.7 L20.7 290.0 L21.2 288.8 L21.5 287.1 L22.1 285.9 L22.4 284.1 L22.4 281.8 L22.7 279.9 L23.6 279.1 L24.1 277.6 L23.9 274.4 L24.8 273.8 L25.3 272.3 L25.6 270.2 L25.6 268.0 L26.4 267.2 L26.6 265.5 L26.5 263.0 L27.2 262.1 L27.1 259.8 L27.3 257.9 L27.9 256.7 L28.2 255.0 L28.6 253.4 L29.2 252.1 L29.7 250.7 L30.2 249.2 L30.6 247.5 L30.9 245.9 L31.0 243.8 L30.8 241.4 L30.8 239.6 L31.5 238.7 L31.6 236.9 L31.9 235.5 L31.6 233.0 L31.9 231.5 L32.8 230.9 L32.7 228.7 L33.0 227.2 L32.7 224.5 L33.2 223.3 L33.9 222.4 L33.9 220.2 L34.4 219.1 L33.9 216.2 L34.3 214.9 L34.9 213.8 L34.7 211.6 L35.3 210.4 L35.6 212.0 L36.6 213.0 L36.5 211.5 L37.8 212.0 L37.7 208.7 L38.8 210.3 L39.1 212.0 L39.3 214.2 L40.3 212.8 L40.5 210.4 L41.0 208.7 L41.1 211.1 L41.9 212.1 L42.2 214.2 L42.4 216.4 L43.0 218.1 L44.1 218.4 L44.7 220.1 L45.3 221.7 L45.8 224.9 L46.8 226.7 L46.8 228.6 L47.3 229.9 L48.0 230.7 L47.8 233.1 L47.8 235.1 L48.6 235.6 L49.2 236.7 L49.3 238.9 L49.8 240.4 L50.3 241.9 L50.8 243.3 L51.2 245.2 L50.9 248.2 L52.1 248.4 L52.0 251.0 L52.7 252.0 L53.0 253.7 L52.8 256.3 L53.5 257.2 L53.9 258.7 L53.9 260.8 L54.0 262.8 L54.4 264.2 L54.4 266.4 L55.1 267.4 L55.3 269.3 L55.4 271.3 L55.9 272.7 L56.0 274.8 L56.5 276.2 L57.1 277.5 L57.3 279.2 L57.1 281.7 L57.4 283.4 L57.6 285.3 L58.0 286.6 L58.3 288.2 L59.1 289.4 L59.2 292.1 L60.2 292.9 L60.5 295.1 L61.2 296.5 L61.6 298.6 L62.2 299.9 L62.8 301.6 L63.2 303.5 L63.9 304.8 L64.7 305.9 L65.1 308.0 L65.7 309.5 L66.5 310.9 L67.7 311.2 L68.3 313.2 L69.0 314.8 L70.1 315.3 L71.1 316.8 L72.0 319.1 L73.2 320.2 L74.2 321.8 L75.2 323.5 L76.4 324.4 L77.5 325.6 L78.6 327.0 L79.9 328.1 L81.3 329.5 L82.7 330.3 L84.1 331.3 L85.5 331.5 L86.9 332.4 L88.5 332.8 L90.1 333.0 L91.7 333.3 L93.3 333.8 L94.9 333.8 L96.5 334.0 L98.0 334.2 L99.6 334.6" fill="none" stroke="#2c2c2c" stroke-width="0.95" stroke-linejoin="round"/>
<path d="M23.5 323.0 L23.6 320.7 L24.1 319.2 L24.5 317.6 L25.3 316.6 L25.4 314.4 L26.0 312.9 L26.0 310.4 L26.6 309.2 L27.1 307.9 L27.3 305.8 L27.8 304.7 L28.1 302.9 L28.1 300.6 L28.2 298.4 L29.0 297.7 L28.9 295.2 L29.2 293.4 L29.9 292.6 L30.3 291.0 L30.6 289.2 L31.0 287.7 L30.8 285.0 L31.0 283.2 L31.3 281.5 L32.1 280.8 L31.9 278.0 L32.2 276.3 L32.4 274.5 L32.7 272.8 L33.0 271.2 L33.4 270.0 L33.6 268.1 L33.9 266.7 L34.6 265.9 L34.4 263.4 L35.0 262.6 L35.3 260.9 L35.7 259.2 L36.3 257.6 L36.7 256.2 L36.9 254.3 L37.0 252.2 L37.4 250.6 L37.6 248.9 L38.1 247.4 L38.7 246.4 L38.7 244.1 L38.8 242.0 L39.4 240.8 L39.9 239.5 L40.0 237.4 L40.6 236.2 L40.7 233.8 L41.1 232.2 L42.0 231.5 L42.1 229.1 L42.7 227.8 L43.2 226.4 L43.6 224.6 L44.9 223.3 L46.1 222.6 L46.5 226.1 L47.1 227.5 L47.5 229.6 L48.3 230.7 L48.5 233.1 L48.8 234.6 L49.2 236.0 L49.6 237.5 L49.9 239.2 L50.3 240.5 L50.5 242.4 L50.6 244.4 L51.2 245.5 L51.0 247.9 L51.5 249.2 L51.7 251.0 L51.9 252.9 L52.3 254.3 L52.9 255.4 L53.1 257.2 L53.5 258.6 L53.8 260.3 L53.5 263.0 L53.7 264.4 L53.6 266.6 L53.7 268.2 L54.1 269.5 L53.7 272.0 L53.8 273.7 L54.3 275.0 L54.8 276.3 L54.8 278.3 L55.1 279.8 L55.2 281.8 L55.5 283.2 L55.3 285.6 L55.4 287.6 L56.0 288.5 L55.9 290.9 L56.2 292.4 L56.5 294.0 L56.4 296.2 L56.9 297.3 L56.8 299.6 L57.5 300.4 L57.1 303.2 L57.8 304.0 L58.1 305.6 L57.8 308.3 L58.1 309.8 L58.3 311.5 L58.7 313.3 L59.3 314.5 L59.9 315.9 L60.2 317.9 L60.2 320.4 L61.0 322.2 L62.3 322.6 L62.9 324.5 L63.7 326.1 L64.9 328.5 L66.7 328.0 L67.7 331.1 L69.7 330.4 L71.4 331.8 L73.3 331.4 L75.0 333.0" fill="none" stroke="#7a7a7a" stroke-width="1.05" stroke-dasharray="1.1 1.0"/>
<path d="M19.7 334.6 L20.0 332.5 L20.3 330.5 L21.4 329.3 L22.4 327.4 L23.5 326.3 L24.4 325.0 L25.2 323.4 L25.7 321.1 L26.7 320.0 L27.3 318.4 L27.9 316.8 L28.7 315.9 L29.2 313.9 L29.8 312.3 L30.6 311.4 L30.9 309.4 L31.3 307.4 L31.8 305.8 L32.5 304.5 L32.7 302.3 L33.7 301.4 L34.4 299.9 L34.9 297.7 L35.8 296.7 L36.5 295.1 L36.8 292.7 L37.4 291.2 L37.5 288.5 L37.9 286.6 L39.1 286.4 L39.1 283.4 L39.5 281.7 L40.5 281.1 L40.8 279.2 L40.7 276.4 L41.3 275.1 L41.5 273.2 L41.9 271.5 L42.1 269.3 L43.5 271.8 L44.7 272.8 L45.6 271.4 L46.5 269.3 L47.1 267.5 L47.7 265.6 L49.1 265.6 L50.1 263.3 L50.4 264.4 L51.3 265.1 L51.8 266.7 L52.3 268.2 L53.2 270.1 L54.4 271.1 L54.6 273.4 L55.1 274.9 L55.4 276.4 L55.4 278.8 L55.9 280.0 L56.3 281.7 L56.7 283.1 L56.9 285.0 L57.1 286.9 L57.8 287.8 L58.4 289.1 L58.4 291.3 L59.0 292.7 L59.3 294.9 L60.2 295.4 L60.3 298.2 L61.8 298.3 L62.6 300.9 L63.6 299.6 L64.6 298.3 L65.2 301.0 L66.0 302.5 L67.0 303.4 L67.8 302.8 L69.0 302.0 L69.8 299.8 L70.9 298.8 L71.7 298.3 L72.3 296.9 L72.7 294.9 L73.1 293.3 L73.9 292.0 L74.4 290.1 L75.6 289.8 L76.1 288.4 L76.1 286.1 L76.2 283.9 L76.9 283.0 L77.6 282.2 L77.8 279.8 L78.1 277.8 L78.7 276.4 L79.7 275.8 L80.3 273.9 L80.7 271.4 L81.7 270.4 L81.9 272.0 L82.2 273.8 L82.8 275.0 L83.6 276.0 L83.7 278.5 L84.0 280.5 L84.5 282.3 L87.0 281.5 L87.4 282.4 L87.9 283.9 L88.2 286.0 L88.9 287.2 L90.0 288.6 L91.3 288.4 L92.9 289.1 L94.4 290.7 L95.4 290.0 L96.5 288.6 L97.3 286.3 L98.1 285.0 L99.4 285.3 L99.6 282.1 L101.0 282.6 L101.2 284.0 L102.0 285.4 L102.4 287.9 L103.8 288.5 L105.2 287.9 L104.8 291.3 L105.5 292.2 L105.4 294.4 L105.7 295.9 L106.4 296.7 L106.7 298.1 L107.0 299.9 L106.8 302.5 L107.1 304.3 L107.7 305.4 L108.0 307.0 L108.2 309.1 L108.4 311.2 L108.8 312.9 L109.2 314.7 L109.6 316.5 L110.1 317.9 L110.6 319.6 L111.4 320.4 L112.0 322.0 L112.2 324.3 L113.0 325.9 L113.7 327.4 L114.5 329.1 L115.5 330.8 L116.5 332.4 L117.6 334.6" fill="none" stroke="#0a0a0a" stroke-width="1.6" stroke-linejoin="round"/>
<path d="M19.4 193.1 H162.5 V335.1" fill="none" stroke="#3c3c3c" stroke-width="1.05"/>
<path d="M19.4 192.6 V335.1 H163.0" fill="none" stroke="#111" stroke-width="1.6"/>
<path d="M19.4 335.1 v3.0 M30.1 335.1 v1.6 M36.4 335.1 v1.6 M40.9 335.1 v1.6 M44.4 335.1 v1.6 M47.2 335.1 v1.6 M49.6 335.1 v1.6 M51.6 335.1 v1.6 M53.5 335.1 v1.6 M55.1 335.1 v3.0 M65.8 335.1 v1.6 M72.1 335.1 v1.6 M76.6 335.1 v1.6 M80.1 335.1 v1.6 M82.9 335.1 v1.6 M85.3 335.1 v1.6 M87.3 335.1 v1.6 M89.2 335.1 v1.6 M90.8 335.1 v3.0 M101.5 335.1 v1.6 M107.8 335.1 v1.6 M112.3 335.1 v1.6 M115.8 335.1 v1.6 M118.6 335.1 v1.6 M121.0 335.1 v1.6 M123.0 335.1 v1.6 M124.9 335.1 v1.6 M126.5 335.1 v3.0 M137.2 335.1 v1.6 M143.5 335.1 v1.6 M148.0 335.1 v1.6 M151.5 335.1 v1.6 M154.3 335.1 v1.6 M156.7 335.1 v1.6 M158.7 335.1 v1.6 M160.6 335.1 v1.6 " stroke="#222" stroke-width="0.8" fill="none"/>
<path d="M19.4 335.1 h-3.0 M19.4 331.6 h-1.6 M19.4 328.0 h-1.6 M19.4 324.5 h-1.6 M19.4 320.9 h-1.6 M19.4 317.4 h-1.6 M19.4 313.8 h-1.6 M19.4 310.2 h-1.6 M19.4 306.7 h-1.6 M19.4 303.2 h-1.6 M19.4 299.6 h-3.0 M19.4 296.1 h-1.6 M19.4 292.5 h-1.6 M19.4 288.9 h-1.6 M19.4 285.4 h-1.6 M19.4 281.9 h-1.6 M19.4 278.3 h-1.6 M19.4 274.8 h-1.6 M19.4 271.2 h-1.6 M19.4 267.6 h-1.6 M19.4 264.1 h-3.0 M19.4 260.6 h-1.6 M19.4 257.0 h-1.6 M19.4 253.5 h-1.6 M19.4 249.9 h-1.6 M19.4 246.3 h-1.6 M19.4 242.8 h-1.6 M19.4 239.2 h-1.6 M19.4 235.7 h-1.6 M19.4 232.2 h-1.6 M19.4 228.6 h-3.0 M19.4 225.1 h-1.6 M19.4 221.5 h-1.6 M19.4 217.9 h-1.6 M19.4 214.4 h-1.6 M19.4 210.8 h-1.6 M19.4 207.3 h-1.6 M19.4 203.8 h-1.6 M19.4 200.2 h-1.6 M19.4 196.7 h-1.6 M19.4 193.1 h-3.0 " stroke="#333" stroke-width="0.6" fill="none"/>
<text x="23.8" y="203.2" font-size="11.95" font-weight="bold" font-style="normal" text-anchor="start" >Spleen</text>
<line x1="111.2" y1="199.7" x2="127.7" y2="199.7" stroke="#cccccc" stroke-width="1"/>
<rect x="111.2" y="210.4" width="16.5" height="7" fill="#6a6a6a" stroke="#222" stroke-width="1.1"/>
<rect x="111.2" y="222.6" width="16.5" height="7" fill="#c6c6c6" stroke="#555" stroke-width="0.8"/>
<text x="131.4" y="203.5" font-size="9.95" font-weight="bold" font-style="normal" text-anchor="start" >IgG1</text>
<text x="131.4" y="216.5" font-size="9.95" font-weight="bold" font-style="normal" text-anchor="start" >NB</text>
<text x="131.4" y="229.4" font-size="9.95" font-weight="bold" font-style="normal" text-anchor="start" >2wk</text>
<text x="49.6" y="215.7" font-size="9.6" font-weight="bold" font-style="normal" text-anchor="middle" >4</text>
<text x="83.5" y="265.5" font-size="9.6" font-weight="bold" font-style="normal" text-anchor="middle" >50</text>
<text x="102.0" y="276.5" font-size="9.6" font-weight="bold" font-style="normal" text-anchor="middle" >176</text>
<path d="M176.2 334.6 L176.3 332.8 L176.3 330.9 L176.3 329.0 L176.6 327.5 L176.6 325.6 L176.7 323.8 L176.7 321.9 L176.9 320.1 L177.3 318.7 L177.5 316.9 L177.8 315.4 L178.0 313.6 L178.7 312.3 L179.2 310.2 L179.7 308.3 L180.3 306.7 L181.2 305.7 L181.6 303.3 L182.4 302.3 L183.0 300.5 L183.4 298.1 L184.2 297.3 L184.2 294.7 L185.1 294.1 L185.6 292.3 L185.6 289.8 L186.3 288.7 L186.6 287.0 L186.6 284.4 L187.3 283.5 L187.2 281.2 L188.1 280.7 L188.3 278.8 L188.9 277.7 L188.6 274.8 L189.1 273.5 L189.6 272.2 L189.9 270.5 L189.9 268.2 L190.8 267.5 L191.1 265.8 L191.0 263.3 L191.2 261.3 L191.9 260.4 L192.0 258.4 L192.5 257.2 L192.6 255.3 L192.8 253.6 L192.7 251.4 L193.1 250.0 L193.6 248.9 L194.1 247.8 L194.1 245.7 L195.1 244.6 L195.6 242.4 L196.6 241.3 L196.6 239.0 L196.4 236.8 L196.4 234.8 L196.5 233.0 L196.6 231.2 L197.5 230.7 L197.6 229.0 L197.6 227.1 L197.3 224.5 L198.0 223.8 L197.7 221.4 L198.6 221.0 L198.6 219.0 L198.9 217.6 L199.0 215.8 L199.0 213.9 L199.2 216.2 L199.4 218.0 L200.5 218.3 L200.7 220.3 L201.5 219.3 L202.1 217.6 L202.6 218.4 L203.2 219.9 L203.3 222.4 L204.1 219.2 L204.6 217.4 L205.6 216.6 L205.8 217.6 L205.3 220.3 L206.0 221.2 L205.6 223.8 L206.3 224.8 L206.0 227.3 L206.3 228.8 L206.5 230.6 L207.2 231.6 L207.4 233.3 L207.7 234.8 L207.8 236.8 L207.9 239.4 L208.9 240.0 L209.2 242.1 L209.4 244.3 L210.1 245.1 L210.4 247.0 L210.9 248.4 L210.9 250.8 L211.8 251.3 L211.4 254.6 L212.0 255.7 L212.2 257.7 L212.7 259.2 L213.0 260.9 L212.9 263.4 L213.3 264.9 L213.6 266.3 L214.4 266.8 L214.3 269.2 L214.3 271.3 L214.8 272.4 L215.1 273.8 L215.3 275.6 L215.9 276.6 L215.7 279.0 L215.9 280.7 L216.6 281.5 L216.6 283.6 L216.7 285.4 L217.1 286.7 L217.2 288.8 L217.2 290.7 L217.5 292.3 L218.1 293.2 L218.5 294.6 L218.3 296.9 L218.7 298.3 L218.9 300.1 L219.1 301.7 L219.7 302.7 L219.9 304.8 L220.4 306.2 L220.5 308.5 L220.9 310.1 L221.5 311.5 L221.7 313.5 L222.3 315.3 L223.1 316.6 L223.7 318.3 L224.3 320.2 L225.0 321.6 L225.7 323.5 L226.4 325.4 L227.2 326.9 L228.2 328.0 L229.1 329.6 L230.1 330.5 L231.2 331.5 L232.7 331.6 L234.1 332.6 L235.5 332.7 L237.1 333.4 L238.7 333.5 L240.2 333.8 L241.8 334.2 L241.8 335.1 L176.2 335.1 Z" fill="#c9c9c9" stroke="none"/>
<path d="M176.5 334.6 L176.5 332.4 L176.7 330.5 L178.0 329.5 L179.4 329.3 L180.5 328.4 L181.6 327.5 L182.6 326.1 L183.7 324.8 L184.6 322.8 L185.8 321.8 L186.5 320.2 L187.5 319.2 L188.1 317.2 L189.0 315.9 L189.5 313.8 L190.0 311.8 L191.0 310.9 L191.6 309.2 L192.0 306.9 L192.4 305.0 L193.2 304.0 L193.7 302.4 L194.4 301.2 L194.7 299.2 L195.0 297.4 L195.5 295.8 L195.8 293.8 L196.0 291.6 L196.5 290.0 L197.7 289.9 L198.1 288.1 L198.3 285.6 L199.1 284.8 L199.2 282.5 L199.2 280.1 L200.2 279.5 L200.3 277.3 L201.0 276.1 L201.2 274.0 L201.1 271.3 L202.0 270.5 L202.5 269.1 L203.1 267.6 L203.0 264.9 L203.6 263.6 L204.1 262.2 L204.1 259.5 L205.1 259.2 L205.5 257.4 L205.2 254.2 L206.1 253.6 L206.4 251.4 L206.6 249.4 L207.7 248.5 L208.8 247.6 L209.1 244.8 L209.9 245.4 L210.1 247.9 L210.7 246.7 L211.2 245.3 L211.3 243.0 L211.9 243.6 L211.2 247.2 L211.8 248.3 L212.6 249.2 L212.8 251.0 L213.0 252.6 L212.6 255.3 L213.3 256.1 L212.8 258.8 L213.7 259.4 L213.5 261.7 L213.9 263.2 L214.5 264.2 L214.8 265.8 L214.3 269.0 L214.5 270.7 L215.5 271.0 L215.2 273.7 L215.2 275.8 L215.5 277.4 L215.8 279.1 L216.5 280.1 L216.4 282.4 L216.8 283.8 L216.8 286.2 L217.3 287.5 L217.6 289.4 L217.9 291.1 L218.6 292.1 L219.5 293.8 L220.9 293.5 L221.9 295.2 L222.5 298.1 L223.9 298.5 L225.4 299.7 L227.0 299.9 L227.9 298.1 L229.1 297.8 L229.9 296.7 L230.0 294.2 L230.6 292.6 L231.0 290.8 L231.5 289.1 L232.6 288.6 L233.1 286.8 L233.1 288.8 L233.8 289.9 L234.1 292.0 L235.6 292.3 L236.7 293.8 L237.7 295.4 L238.7 297.4 L238.7 299.8 L239.7 300.2 L239.9 302.0 L240.6 302.9 L241.1 304.4 L241.3 306.6 L241.8 308.3 L242.4 309.7 L242.7 311.8 L243.4 313.5 L244.1 315.4 L245.0 316.7 L246.7 317.3 L248.3 318.2 L248.6 320.6 L249.4 321.6 L250.0 323.1 L250.2 325.3 L251.4 326.1 L252.3 328.0 L253.5 329.1 L255.0 330.0 L256.6 330.4 L258.2 331.8 L259.8 332.8 L261.2 333.2 L262.6 333.6 L264.0 334.2 L266.1 334.6 L266.1 335.1 L176.5 335.1 Z" fill="#5b5b5b" stroke="none"/>
<path d="M176.2 334.6 L176.3 332.8 L176.3 330.9 L176.3 329.0 L176.6 327.5 L176.6 325.6 L176.7 323.8 L176.7 321.9 L176.9 320.1 L177.3 318.7 L177.5 316.9 L177.8 315.4 L178.0 313.6 L178.7 312.3 L179.2 310.2 L179.7 308.3 L180.3 306.7 L181.2 305.7 L181.6 303.3 L182.4 302.3 L183.0 300.5 L183.4 298.1 L184.2 297.3 L184.2 294.7 L185.1 294.1 L185.6 292.3 L185.6 289.8 L186.3 288.7 L186.6 287.0 L186.6 284.4 L187.3 283.5 L187.2 281.2 L188.1 280.7 L188.3 278.8 L188.9 277.7 L188.6 274.8 L189.1 273.5 L189.6 272.2 L189.9 270.5 L189.9 268.2 L190.8 267.5 L191.1 265.8 L191.0 263.3 L191.2 261.3 L191.9 260.4 L192.0 258.4 L192.5 257.2 L192.6 255.3 L192.8 253.6 L192.7 251.4 L193.1 250.0 L193.6 248.9 L194.1 247.8 L194.1 245.7 L195.1 244.6 L195.6 242.4 L196.6 241.3 L196.6 239.0 L196.4 236.8 L196.4 234.8 L196.5 233.0 L196.6 231.2 L197.5 230.7 L197.6 229.0 L197.6 227.1 L197.3 224.5 L198.0 223.8 L197.7 221.4 L198.6 221.0 L198.6 219.0 L198.9 217.6 L199.0 215.8 L199.0 213.9 L199.2 216.2 L199.4 218.0 L200.5 218.3 L200.7 220.3 L201.5 219.3 L202.1 217.6 L202.6 218.4 L203.2 219.9 L203.3 222.4 L204.1 219.2 L204.6 217.4 L205.6 216.6 L205.8 217.6 L205.3 220.3 L206.0 221.2 L205.6 223.8 L206.3 224.8 L206.0 227.3 L206.3 228.8 L206.5 230.6 L207.2 231.6 L207.4 233.3 L207.7 234.8 L207.8 236.8 L207.9 239.4 L208.9 240.0 L209.2 242.1 L209.4 244.3 L210.1 245.1 L210.4 247.0 L210.9 248.4 L210.9 250.8 L211.8 251.3 L211.4 254.6 L212.0 255.7 L212.2 257.7 L212.7 259.2 L213.0 260.9 L212.9 263.4 L213.3 264.9 L213.6 266.3 L214.4 266.8 L214.3 269.2 L214.3 271.3 L214.8 272.4 L215.1 273.8 L215.3 275.6 L215.9 276.6 L215.7 279.0 L215.9 280.7 L216.6 281.5 L216.6 283.6 L216.7 285.4 L217.1 286.7 L217.2 288.8 L217.2 290.7 L217.5 292.3 L218.1 293.2 L218.5 294.6 L218.3 296.9 L218.7 298.3 L218.9 300.1 L219.1 301.7 L219.7 302.7 L219.9 304.8 L220.4 306.2 L220.5 308.5 L220.9 310.1 L221.5 311.5 L221.7 313.5 L222.3 315.3 L223.1 316.6 L223.7 318.3 L224.3 320.2 L225.0 321.6 L225.7 323.5 L226.4 325.4 L227.2 326.9 L228.2 328.0 L229.1 329.6 L230.1 330.5 L231.2 331.5 L232.7 331.6 L234.1 332.6 L235.5 332.7 L237.1 333.4 L238.7 333.5 L240.2 333.8 L241.8 334.2" fill="none" stroke="#2c2c2c" stroke-width="0.95" stroke-linejoin="round"/>
<path d="M179.4 321.9 L180.1 320.4 L180.4 317.8 L181.2 316.5 L181.8 314.8 L182.7 313.9 L183.2 312.2 L183.8 311.0 L183.7 308.4 L184.4 307.3 L184.6 305.3 L185.2 304.0 L185.8 302.9 L185.9 300.7 L186.4 299.3 L187.1 298.3 L187.4 296.6 L187.6 294.6 L188.2 293.5 L188.7 292.2 L188.6 289.6 L189.4 288.9 L189.7 287.1 L189.8 284.9 L190.0 283.0 L190.8 282.3 L190.7 279.9 L190.9 277.9 L191.2 276.2 L192.0 275.4 L192.2 273.4 L192.5 271.9 L192.7 270.2 L192.8 268.2 L193.3 267.0 L193.1 264.7 L193.5 263.3 L193.9 262.0 L194.1 260.2 L194.5 258.9 L194.6 257.0 L194.9 255.5 L194.7 253.1 L195.1 251.8 L195.4 250.3 L195.6 248.4 L195.9 247.0 L196.1 245.3 L196.5 243.9 L197.0 242.7 L197.1 240.8 L197.3 239.2 L197.6 237.3 L198.0 235.6 L198.7 234.6 L198.9 232.5 L199.2 230.7 L199.3 228.4 L200.0 227.3 L200.0 224.9 L200.5 223.4 L201.2 222.4 L201.3 220.2 L201.6 218.4 L202.1 216.8 L202.5 215.3 L202.8 213.5 L202.8 211.2 L203.0 209.2 L203.5 207.8 L203.8 206.0 L204.0 204.2 L205.6 206.6 L205.7 207.6 L206.3 208.5 L206.2 210.5 L206.6 211.8 L206.4 214.1 L206.9 215.4 L207.2 216.9 L207.3 218.7 L207.3 220.8 L207.7 222.2 L207.6 224.4 L207.5 226.5 L208.0 227.7 L208.3 229.3 L207.9 231.9 L208.4 233.1 L208.8 234.3 L209.0 236.0 L209.1 237.7 L209.0 240.0 L209.2 241.5" fill="none" stroke="#6e6e6e" stroke-width="1.05" stroke-dasharray="1.1 1.0"/>
<path d="M176.5 334.6 L176.5 332.4 L176.7 330.5 L178.0 329.5 L179.4 329.3 L180.5 328.4 L181.6 327.5 L182.6 326.1 L183.7 324.8 L184.6 322.8 L185.8 321.8 L186.5 320.2 L187.5 319.2 L188.1 317.2 L189.0 315.9 L189.5 313.8 L190.0 311.8 L191.0 310.9 L191.6 309.2 L192.0 306.9 L192.4 305.0 L193.2 304.0 L193.7 302.4 L194.4 301.2 L194.7 299.2 L195.0 297.4 L195.5 295.8 L195.8 293.8 L196.0 291.6 L196.5 290.0 L197.7 289.9 L198.1 288.1 L198.3 285.6 L199.1 284.8 L199.2 282.5 L199.2 280.1 L200.2 279.5 L200.3 277.3 L201.0 276.1 L201.2 274.0 L201.1 271.3 L202.0 270.5 L202.5 269.1 L203.1 267.6 L203.0 264.9 L203.6 263.6 L204.1 262.2 L204.1 259.5 L205.1 259.2 L205.5 257.4 L205.2 254.2 L206.1 253.6 L206.4 251.4 L206.6 249.4 L207.7 248.5 L208.8 247.6 L209.1 244.8 L209.9 245.4 L210.1 247.9 L210.7 246.7 L211.2 245.3 L211.3 243.0 L211.9 243.6 L211.2 247.2 L211.8 248.3 L212.6 249.2 L212.8 251.0 L213.0 252.6 L212.6 255.3 L213.3 256.1 L212.8 258.8 L213.7 259.4 L213.5 261.7 L213.9 263.2 L214.5 264.2 L214.8 265.8 L214.3 269.0 L214.5 270.7 L215.5 271.0 L215.2 273.7 L215.2 275.8 L215.5 277.4 L215.8 279.1 L216.5 280.1 L216.4 282.4 L216.8 283.8 L216.8 286.2 L217.3 287.5 L217.6 289.4 L217.9 291.1 L218.6 292.1 L219.5 293.8 L220.9 293.5 L221.9 295.2 L222.5 298.1 L223.9 298.5 L225.4 299.7 L227.0 299.9 L227.9 298.1 L229.1 297.8 L229.9 296.7 L230.0 294.2 L230.6 292.6 L231.0 290.8 L231.5 289.1 L232.6 288.6 L233.1 286.8 L233.1 288.8 L233.8 289.9 L234.1 292.0 L235.6 292.3 L236.7 293.8 L237.7 295.4 L238.7 297.4 L238.7 299.8 L239.7 300.2 L239.9 302.0 L240.6 302.9 L241.1 304.4 L241.3 306.6 L241.8 308.3 L242.4 309.7 L242.7 311.8 L243.4 313.5 L244.1 315.4 L245.0 316.7 L246.7 317.3 L248.3 318.2 L248.6 320.6 L249.4 321.6 L250.0 323.1 L250.2 325.3 L251.4 326.1 L252.3 328.0 L253.5 329.1 L255.0 330.0 L256.6 330.4 L258.2 331.8 L259.8 332.8 L261.2 333.2 L262.6 333.6 L264.0 334.2 L266.1 334.6" fill="none" stroke="#0a0a0a" stroke-width="1.6" stroke-linejoin="round"/>
<path d="M175.6 193.1 H319.1 V335.1" fill="none" stroke="#3c3c3c" stroke-width="1.05"/>
<path d="M175.6 192.6 V335.1 H319.6" fill="none" stroke="#111" stroke-width="1.6"/>
<path d="M175.6 335.1 v3.0 M186.4 335.1 v1.6 M192.7 335.1 v1.6 M197.2 335.1 v1.6 M200.6 335.1 v1.6 M203.5 335.1 v1.6 M205.9 335.1 v1.6 M207.9 335.1 v1.6 M209.8 335.1 v1.6 M211.4 335.1 v3.0 M222.2 335.1 v1.6 M228.5 335.1 v1.6 M233.0 335.1 v1.6 M236.4 335.1 v1.6 M239.3 335.1 v1.6 M241.7 335.1 v1.6 M243.7 335.1 v1.6 M245.6 335.1 v1.6 M247.2 335.1 v3.0 M258.0 335.1 v1.6 M264.3 335.1 v1.6 M268.8 335.1 v1.6 M272.2 335.1 v1.6 M275.1 335.1 v1.6 M277.5 335.1 v1.6 M279.5 335.1 v1.6 M281.4 335.1 v1.6 M283.0 335.1 v3.0 M293.8 335.1 v1.6 M300.1 335.1 v1.6 M304.6 335.1 v1.6 M308.0 335.1 v1.6 M310.9 335.1 v1.6 M313.3 335.1 v1.6 M315.3 335.1 v1.6 M317.2 335.1 v1.6 " stroke="#222" stroke-width="0.8" fill="none"/>
<path d="M175.6 335.1 h-3.0 M175.6 331.6 h-1.6 M175.6 328.0 h-1.6 M175.6 324.5 h-1.6 M175.6 320.9 h-1.6 M175.6 317.4 h-1.6 M175.6 313.8 h-1.6 M175.6 310.2 h-1.6 M175.6 306.7 h-1.6 M175.6 303.2 h-1.6 M175.6 299.6 h-3.0 M175.6 296.1 h-1.6 M175.6 292.5 h-1.6 M175.6 288.9 h-1.6 M175.6 285.4 h-1.6 M175.6 281.9 h-1.6 M175.6 278.3 h-1.6 M175.6 274.8 h-1.6 M175.6 271.2 h-1.6 M175.6 267.6 h-1.6 M175.6 264.1 h-3.0 M175.6 260.6 h-1.6 M175.6 257.0 h-1.6 M175.6 253.5 h-1.6 M175.6 249.9 h-1.6 M175.6 246.3 h-1.6 M175.6 242.8 h-1.6 M175.6 239.2 h-1.6 M175.6 235.7 h-1.6 M175.6 232.2 h-1.6 M175.6 228.6 h-3.0 M175.6 225.1 h-1.6 M175.6 221.5 h-1.6 M175.6 217.9 h-1.6 M175.6 214.4 h-1.6 M175.6 210.8 h-1.6 M175.6 207.3 h-1.6 M175.6 203.8 h-1.6 M175.6 200.2 h-1.6 M175.6 196.7 h-1.6 M175.6 193.1 h-3.0 " stroke="#333" stroke-width="0.6" fill="none"/>
<text x="180.9" y="203.6" font-size="11.95" font-weight="bold" font-style="normal" text-anchor="start" >Bone Marrow</text>
<line x1="269.2" y1="202.0" x2="286.0" y2="202.0" stroke="#cccccc" stroke-width="1"/>
<rect x="269.2" y="212.7" width="16.8" height="7" fill="#6a6a6a" stroke="#222" stroke-width="1.1"/>
<rect x="269.2" y="224.9" width="16.8" height="7" fill="#c6c6c6" stroke="#555" stroke-width="0.8"/>
<text x="291.4" y="205.8" font-size="9.95" font-weight="bold" font-style="normal" text-anchor="start" >IgG1</text>
<text x="291.4" y="218.8" font-size="9.95" font-weight="bold" font-style="normal" text-anchor="start" >1D</text>
<text x="291.4" y="231.7" font-size="9.95" font-weight="bold" font-style="normal" text-anchor="start" >4wk</text>
<text x="214.8" y="219.0" font-size="9.6" font-weight="bold" font-style="normal" text-anchor="middle" >5</text>
<text x="235.2" y="281.8" font-size="9.6" font-weight="bold" font-style="normal" text-anchor="middle" >43</text>
<text x="3.5" y="20.0" font-size="25.8" font-weight="bold" font-style="normal" text-anchor="start" style="stroke-width:0.45px">A</text>
<text x="65.6" y="351.0" font-size="12.15" font-weight="bold" font-style="normal" text-anchor="start" >Relative Fluorescence Intensity (log10)</text>
<text transform="translate(12.7,180.2) rotate(-90)" font-size="12.4" font-weight="bold" text-anchor="middle">Relative Cell number</text>
<text transform="translate(335.1,19.5) scale(0.94,1)" font-size="25.6" font-weight="bold" style="stroke-width:0.45px">B</text>
<rect x="372.2" y="27.0" width="142.4" height="141.5" fill="none" stroke="#0a0a0a" stroke-width="2.4"/>
<text x="367.6" y="171.9" font-size="9.6" font-weight="bold" font-style="normal" text-anchor="end" >0</text>
<text x="367.6" y="136.5" font-size="9.6" font-weight="bold" font-style="normal" text-anchor="end" >25</text>
<text x="367.6" y="101.2" font-size="9.6" font-weight="bold" font-style="normal" text-anchor="end" >50</text>
<text x="367.6" y="65.8" font-size="9.6" font-weight="bold" font-style="normal" text-anchor="end" >75</text>
<text x="367.6" y="30.4" font-size="9.6" font-weight="bold" font-style="normal" text-anchor="end" >100</text>
<text x="372.0" y="180.3" font-size="9.6" font-weight="bold" font-style="normal" text-anchor="middle" >9</text>
<text x="386.2" y="180.3" font-size="9.6" font-weight="bold" font-style="normal" text-anchor="middle" >10</text>
<text x="400.4" y="180.3" font-size="9.6" font-weight="bold" font-style="normal" text-anchor="middle" >11</text>
<text x="414.7" y="180.3" font-size="9.6" font-weight="bold" font-style="normal" text-anchor="middle" >12</text>
<text x="428.9" y="180.3" font-size="9.6" font-weight="bold" font-style="normal" text-anchor="middle" >13</text>
<text x="443.1" y="180.3" font-size="9.6" font-weight="bold" font-style="normal" text-anchor="middle" >14</text>
<text x="457.3" y="180.3" font-size="9.6" font-weight="bold" font-style="normal" text-anchor="middle" >15</text>
<text x="471.5" y="180.3" font-size="9.6" font-weight="bold" font-style="normal" text-anchor="middle" >16</text>
<text x="485.8" y="180.3" font-size="9.6" font-weight="bold" font-style="normal" text-anchor="middle" >17</text>
<text x="500.0" y="180.3" font-size="9.6" font-weight="bold" font-style="normal" text-anchor="middle" >18</text>
<path d="M372.2 168.5 h-3.5 M372.2 133.1 h-3.5 M372.2 97.8 h-3.5 M372.2 62.4 h-3.5 M372.2 27.0 h-3.5 M372.0 168.5 v2.5 M386.2 168.5 v2.5 M400.4 168.5 v2.5 M414.7 168.5 v2.5 M428.9 168.5 v2.5 M443.1 168.5 v2.5 M457.3 168.5 v2.5 M471.5 168.5 v2.5 M485.8 168.5 v2.5 M500.0 168.5 v2.5 " stroke="#0a0a0a" stroke-width="1.2" fill="none"/>
<text x="441.5" y="193.0" font-size="12.8" font-weight="bold" font-style="normal" text-anchor="middle" >DAC</text>
<text transform="translate(348.4,98.3) rotate(-90)" font-size="13.3" font-weight="bold" text-anchor="middle">% PCLP1<tspan dy="-3.2" font-size="11.5">+</tspan><tspan dy="3.2"> cells</tspan></text>
<polyline points="428.9,55.3 443.1,97.8 457.3,114.7 471.5,140.2 485.8,147.3 500.0,151.5" fill="none" stroke="#222" stroke-width="0.7" />
<path d="M428.9 53.4 l1.9 1.9 l-1.9 1.9 l-1.9 -1.9 Z" fill="#0a0a0a"/>
<path d="M443.1 95.8 l1.9 1.9 l-1.9 1.9 l-1.9 -1.9 Z" fill="#0a0a0a"/>
<path d="M457.3 112.8 l1.9 1.9 l-1.9 1.9 l-1.9 -1.9 Z" fill="#0a0a0a"/>
<path d="M471.5 138.3 l1.9 1.9 l-1.9 1.9 l-1.9 -1.9 Z" fill="#0a0a0a"/>
<path d="M485.8 145.4 l1.9 1.9 l-1.9 1.9 l-1.9 -1.9 Z" fill="#0a0a0a"/>
<path d="M500.0 149.6 l1.9 1.9 l-1.9 1.9 l-1.9 -1.9 Z" fill="#0a0a0a"/>
<polyline points="386.2,42.6 400.4,46.8 414.7,49.6 428.9,56.0" fill="none" stroke="#222" stroke-width="0.6" />
<path d="M386.2 40.7 l1.9 1.9 l-1.9 1.9 l-1.9 -1.9 Z" fill="#0a0a0a"/>
<path d="M400.4 44.9 l1.9 1.9 l-1.9 1.9 l-1.9 -1.9 Z" fill="#0a0a0a"/>
<path d="M414.7 47.7 l1.9 1.9 l-1.9 1.9 l-1.9 -1.9 Z" fill="#0a0a0a"/>
<path d="M428.9 54.1 l1.9 1.9 l-1.9 1.9 l-1.9 -1.9 Z" fill="#0a0a0a"/>
<polyline points="485.8,140.2 500.0,152.9" fill="none" stroke="#222" stroke-width="0.7" />
<path d="M485.8 137.6 l2.2 4.5 h-4.5 Z" fill="#0a0a0a"/>
<path d="M500.0 150.4 l2.2 4.5 h-4.5 Z" fill="#0a0a0a"/>
<polyline points="428.9,55.3 443.1,62.4 457.3,72.3 471.5,104.8 485.8,133.1 500.0,145.9" fill="none" stroke="#222" stroke-width="0.9" />
<circle cx="428.9" cy="55.3" r="2.4" fill="#0a0a0a"/>
<circle cx="443.1" cy="62.4" r="2.4" fill="#0a0a0a"/>
<circle cx="457.3" cy="72.3" r="2.4" fill="#0a0a0a"/>
<circle cx="471.5" cy="104.8" r="2.4" fill="#0a0a0a"/>
<circle cx="485.8" cy="133.1" r="2.4" fill="#0a0a0a"/>
<circle cx="500.0" cy="145.9" r="2.4" fill="#0a0a0a"/>
<polyline points="386.2,41.2 400.4,45.4 414.7,48.2 428.9,55.3 443.1,61.7" fill="none" stroke="#222" stroke-width="1.0" />
<rect x="384.0" y="38.9" width="4.5" height="4.5" fill="#0a0a0a"/>
<rect x="398.2" y="43.1" width="4.5" height="4.5" fill="#0a0a0a"/>
<rect x="412.4" y="46.0" width="4.5" height="4.5" fill="#0a0a0a"/>
<rect x="426.6" y="53.0" width="4.5" height="4.5" fill="#0a0a0a"/>
<rect x="440.9" y="59.4" width="4.5" height="4.5" fill="#0a0a0a"/>
<polyline points="485.8,154.3 500.0,161.4" fill="none" stroke="#222" stroke-width="1.0" stroke-dasharray="1.5 1.5"/>
<rect x="483.5" y="152.1" width="4.5" height="4.5" fill="#0a0a0a"/>
<rect x="497.7" y="159.2" width="4.5" height="4.5" fill="#0a0a0a"/>
<rect x="370.5" y="202.6" width="142.8" height="141.5" fill="none" stroke="#0a0a0a" stroke-width="2.9"/>
<text x="366.6" y="346.5" font-size="9.6" font-weight="bold" font-style="normal" text-anchor="end" >0</text>
<text x="366.6" y="312.1" font-size="9.6" font-weight="bold" font-style="normal" text-anchor="end" >25</text>
<text x="366.6" y="276.8" font-size="9.6" font-weight="bold" font-style="normal" text-anchor="end" >50</text>
<text x="366.6" y="241.4" font-size="9.6" font-weight="bold" font-style="normal" text-anchor="end" >75</text>
<text x="366.6" y="206.0" font-size="9.6" font-weight="bold" font-style="normal" text-anchor="end" >100</text>
<text x="374.6" y="355.7" font-size="9.9" font-weight="bold" font-style="normal" text-anchor="middle" >-1</text>
<text x="393.7" y="355.7" font-size="9.9" font-weight="bold" font-style="normal" text-anchor="middle" >NB</text>
<text x="411.3" y="355.7" font-size="9.9" font-weight="bold" font-style="normal" text-anchor="middle" >2</text>
<text x="428.9" y="355.7" font-size="9.9" font-weight="bold" font-style="normal" text-anchor="middle" >4</text>
<text x="456.0" y="355.7" font-size="9.9" font-weight="bold" font-style="normal" text-anchor="middle" >1wk</text>
<text x="482.9" y="355.7" font-size="9.9" font-weight="bold" font-style="normal" text-anchor="middle" >2wk</text>
<text x="508.6" y="355.7" font-size="9.9" font-weight="bold" font-style="normal" text-anchor="middle" >4wk</text>
<path d="M370.5 344.1 h-3.5 M370.5 308.7 h-3.5 M370.5 273.4 h-3.5 M370.5 238.0 h-3.5 M370.5 202.6 h-3.5 " stroke="#0a0a0a" stroke-width="1.2" fill="none"/>
<text x="451.2" y="373.0" font-size="13.15" font-weight="bold" font-style="normal" text-anchor="middle" >Time after birth</text>
<text transform="translate(348.4,273.6) rotate(-90)" font-size="13.3" font-weight="bold" text-anchor="middle">% PCLP1<tspan dy="-3.2" font-size="11.5">+</tspan><tspan dy="3.2"> cells</tspan></text>
<polyline points="376.1,330.0 393.5,274.8 455.8,328.5 482.3,339.9" fill="none" stroke="#222" stroke-width="0.7" />
<path d="M376.1 328.0 l1.9 1.9 l-1.9 1.9 l-1.9 -1.9 Z" fill="#0a0a0a"/>
<path d="M393.5 272.9 l1.9 1.9 l-1.9 1.9 l-1.9 -1.9 Z" fill="#0a0a0a"/>
<path d="M455.8 326.6 l1.9 1.9 l-1.9 1.9 l-1.9 -1.9 Z" fill="#0a0a0a"/>
<path d="M482.3 337.9 l1.9 1.9 l-1.9 1.9 l-1.9 -1.9 Z" fill="#0a0a0a"/>
<polyline points="376.1,329.2 393.5,283.3 411.7,279.7 455.8,294.6 482.3,341.3 509.2,343.4" fill="none" stroke="#222" stroke-width="0.8" />
<path d="M376.1 326.7 l2.2 4.5 h-4.5 Z" fill="#0a0a0a"/>
<path d="M393.5 280.7 l2.2 4.5 h-4.5 Z" fill="#0a0a0a"/>
<path d="M411.7 277.2 l2.2 4.5 h-4.5 Z" fill="#0a0a0a"/>
<path d="M455.8 292.0 l2.2 4.5 h-4.5 Z" fill="#0a0a0a"/>
<path d="M482.3 338.7 l2.2 4.5 h-4.5 Z" fill="#0a0a0a"/>
<path d="M509.2 340.8 l2.2 4.5 h-4.5 Z" fill="#0a0a0a"/>
<polyline points="376.1,322.2 393.5,313.0 402.4,291.0 455.8,329.2 482.3,337.3" fill="none" stroke="#222" stroke-width="0.8" />
<circle cx="376.1" cy="322.2" r="2.4" fill="#0a0a0a"/>
<circle cx="393.5" cy="313.0" r="2.4" fill="#0a0a0a"/>
<circle cx="402.4" cy="291.0" r="2.4" fill="#0a0a0a"/>
<circle cx="455.8" cy="329.2" r="2.4" fill="#0a0a0a"/>
<circle cx="482.3" cy="337.3" r="2.4" fill="#0a0a0a"/>
<polyline points="376.1,337.0 393.5,309.4 402.4,296.7 411.7,312.3 429.0,329.2 455.8,336.2 482.3,342.0 509.2,343.4" fill="none" stroke="#222" stroke-width="0.9" stroke-dasharray="1.5 1.5"/>
<rect x="373.9" y="334.8" width="4.5" height="4.5" fill="#0a0a0a"/>
<rect x="391.2" y="307.2" width="4.5" height="4.5" fill="#0a0a0a"/>
<rect x="400.1" y="294.4" width="4.5" height="4.5" fill="#0a0a0a"/>
<rect x="409.4" y="310.0" width="4.5" height="4.5" fill="#0a0a0a"/>
<rect x="426.8" y="327.0" width="4.5" height="4.5" fill="#0a0a0a"/>
<rect x="453.6" y="333.9" width="4.5" height="4.5" fill="#0a0a0a"/>
<rect x="480.1" y="339.7" width="4.5" height="4.5" fill="#0a0a0a"/>
<rect x="506.9" y="341.1" width="4.5" height="4.5" fill="#0a0a0a"/>
<line x1="452.3" y1="212.7" x2="472.8" y2="212.7" stroke="#222" stroke-width="1.1" />
<rect x="459.7" y="209.8" width="5.8" height="5.8" fill="#0a0a0a"/>
<text x="480.6" y="216.4" font-size="10.3" font-weight="bold" font-style="normal" text-anchor="start" >YS</text>
<line x1="452.3" y1="228.9" x2="472.8" y2="228.9" stroke="#222" stroke-width="0.7" />
<path d="M462.6 226.9 l2.0 2.0 l-2.0 2.0 l-2.0 -2.0 Z" fill="#0a0a0a"/>
<text x="480.6" y="232.6" font-size="10.3" font-weight="bold" font-style="normal" text-anchor="start" >PB</text>
<line x1="452.3" y1="245.1" x2="472.8" y2="245.1" stroke="#222" stroke-width="1.0" stroke-dasharray="1 1"/>
<circle cx="462.6" cy="245.1" r="3.0" fill="#0a0a0a"/>
<text x="480.6" y="248.8" font-size="10.3" font-weight="bold" font-style="normal" text-anchor="start" >FL/L</text>
<line x1="452.3" y1="261.3" x2="472.8" y2="261.3" stroke="#222" stroke-width="1.0" stroke-dasharray="0.9 0.7"/>
<path d="M462.6 258.1 l2.9 5.8 h-5.8 Z" fill="#0a0a0a"/>
<text x="480.6" y="265.0" font-size="10.3" font-weight="bold" font-style="normal" text-anchor="start" >SP</text>
<line x1="452.3" y1="277.5" x2="472.8" y2="277.5" stroke="#222" stroke-width="1.1" stroke-dasharray="1.6 1.6"/>
<rect x="459.7" y="274.6" width="5.8" height="5.8" fill="#0a0a0a"/>
<text x="480.6" y="281.2" font-size="10.3" font-weight="bold" font-style="normal" text-anchor="start" >BM</text>
<text transform="translate(91.2,414.4) scale(0.93,1)" font-size="26" font-weight="bold" style="stroke-width:0.45px">C</text>
<rect x="114.5" y="419.6" width="82.0" height="46" fill="#ececec" filter="url(#bl2)"/>
<text x="160.5" y="404.6" font-size="10.2" font-weight="normal" font-style="italic" text-anchor="middle" >cd34</text>
<text x="131.7" y="416.6" font-size="10.7" font-weight="normal" font-style="normal" text-anchor="middle" >M</text>
<text x="147.8" y="416.6" font-size="10.7" font-weight="normal" font-style="normal" text-anchor="middle" >ys</text>
<text x="167.4" y="416.6" font-size="10.7" font-weight="normal" font-style="normal" text-anchor="middle" >pb</text>
<text x="185.1" y="416.6" font-size="10.7" font-weight="normal" font-style="normal" text-anchor="middle" >fl</text>
<rect x="125.7" y="426.1" width="10.5" height="2.8" rx="1.4" fill="#1c1c1c" opacity="1" filter="url(#bl)"/>
<rect x="125.7" y="434.1" width="10.5" height="3.0" rx="1.5" fill="#757575" opacity="0.9" filter="url(#bl)"/>
<rect x="125.7" y="439.3" width="10.5" height="2.2" rx="1.1" fill="#858585" opacity="0.9" filter="url(#bl)"/>
<rect x="125.7" y="444.2" width="10.5" height="2.2" rx="1.1" fill="#8c8c8c" opacity="0.9" filter="url(#bl)"/>
<rect x="125.7" y="454.9" width="10.5" height="3.4" rx="1.5" fill="#b4b4b4" opacity="0.8" filter="url(#bl)"/>
<rect x="143.1" y="434.0" width="9.0" height="24.0" rx="1.5" fill="#d2d2d2" opacity="0.7" filter="url(#bl3)"/>
<rect x="142.3" y="433.2" width="10.5" height="2.6" rx="1.3" fill="#6c6c6c" opacity="0.95" filter="url(#bl)"/>
<rect x="143.1" y="426.0" width="9.0" height="2.0" rx="1.0" fill="#cacaca" opacity="0.8" filter="url(#bl)"/>
<rect x="143.1" y="439.0" width="9.0" height="2.0" rx="1.0" fill="#c4c4c4" opacity="0.8" filter="url(#bl)"/>
<rect x="162.3" y="436.0" width="8.0" height="14.0" rx="1.5" fill="#d2d2d2" opacity="0.6" filter="url(#bl3)"/>
<rect x="161.1" y="423.3" width="10.5" height="2.6" rx="1.3" fill="#3c3c3c" opacity="0.95" filter="url(#bl)"/>
<rect x="160.1" y="432.5" width="12.5" height="4.0" rx="1.5" fill="#0c0c0c" opacity="1" filter="url(#bl)"/>
<rect x="162.3" y="449.1" width="8.0" height="1.8" rx="0.9" fill="#9a9a9a" opacity="0.8" filter="url(#bl)"/>
<rect x="180.3" y="435.0" width="10.0" height="24.0" rx="1.5" fill="#c8c8c8" opacity="0.8" filter="url(#bl3)"/>
<rect x="180.1" y="423.3" width="10.5" height="2.6" rx="1.3" fill="#4a4a4a" opacity="0.95" filter="url(#bl)"/>
<rect x="179.1" y="432.5" width="12.5" height="4.0" rx="1.5" fill="#0c0c0c" opacity="1" filter="url(#bl)"/>
<rect x="180.3" y="440.1" width="10.0" height="1.8" rx="0.9" fill="#b0b0b0" opacity="0.8" filter="url(#bl)"/>
<rect x="180.3" y="444.1" width="10.0" height="1.8" rx="0.9" fill="#b8b8b8" opacity="0.8" filter="url(#bl)"/>
<rect x="202.5" y="419.6" width="76.0" height="46" fill="#ececec" filter="url(#bl2)"/>
<text x="240.6" y="404.6" font-size="10.2" font-weight="normal" font-style="italic" text-anchor="middle" >podxl</text>
<text x="212.8" y="416.6" font-size="10.7" font-weight="normal" font-style="normal" text-anchor="middle" >M</text>
<text x="229.2" y="416.6" font-size="10.7" font-weight="normal" font-style="normal" text-anchor="middle" >ys</text>
<text x="249.3" y="416.6" font-size="10.7" font-weight="normal" font-style="normal" text-anchor="middle" >pb</text>
<text x="266.8" y="416.6" font-size="10.7" font-weight="normal" font-style="normal" text-anchor="middle" >fl</text>
<rect x="207.2" y="427.5" width="10.5" height="2.6" rx="1.3" fill="#1c1c1c" opacity="1" filter="url(#bl)"/>
<rect x="207.2" y="435.9" width="10.5" height="2.2" rx="1.1" fill="#6a6a6a" opacity="0.9" filter="url(#bl)"/>
<rect x="207.2" y="440.9" width="10.5" height="2.2" rx="1.1" fill="#6a6a6a" opacity="0.9" filter="url(#bl)"/>
<rect x="207.2" y="445.1" width="10.5" height="2.2" rx="1.1" fill="#6a6a6a" opacity="0.9" filter="url(#bl)"/>
<rect x="207.2" y="457.3" width="10.5" height="3.0" rx="1.5" fill="#a8a8a8" opacity="0.8" filter="url(#bl)"/>
<rect x="224.3" y="439.0" width="10.0" height="14.0" rx="1.5" fill="#dcdcdc" opacity="0.7" filter="url(#bl3)"/>
<rect x="223.4" y="436.5" width="11.8" height="5.2" rx="1.5" fill="#060606" opacity="1" filter="url(#bl)"/>
<rect x="224.3" y="431.6" width="10.0" height="1.8" rx="0.9" fill="#b4b4b4" opacity="0.8" filter="url(#bl)"/>
<rect x="243.0" y="439.0" width="10.0" height="14.0" rx="1.5" fill="#dcdcdc" opacity="0.7" filter="url(#bl3)"/>
<rect x="242.1" y="436.5" width="11.8" height="5.2" rx="1.5" fill="#060606" opacity="1" filter="url(#bl)"/>
<rect x="243.0" y="431.6" width="10.0" height="1.8" rx="0.9" fill="#c4c4c4" opacity="0.7" filter="url(#bl)"/>
<rect x="239.2" y="431.3" width="4.0" height="1.8" rx="0.9" fill="#1a1a1a" opacity="1" filter="url(#bl)"/>
<rect x="261.8" y="439.0" width="10.0" height="14.0" rx="1.5" fill="#dcdcdc" opacity="0.7" filter="url(#bl3)"/>
<rect x="260.9" y="436.5" width="11.8" height="5.2" rx="1.5" fill="#060606" opacity="1" filter="url(#bl)"/>
<rect x="261.8" y="431.6" width="10.0" height="1.8" rx="0.9" fill="#b4b4b4" opacity="0.8" filter="url(#bl)"/>
<rect x="283.8" y="419.6" width="71.2" height="46" fill="#ececec" filter="url(#bl2)"/>
<text x="318.5" y="404.6" font-size="10.2" font-weight="normal" font-style="italic" text-anchor="middle" >endgl</text>
<text x="292.2" y="416.6" font-size="10.7" font-weight="normal" font-style="normal" text-anchor="middle" >M</text>
<text x="307.8" y="416.6" font-size="10.7" font-weight="normal" font-style="normal" text-anchor="middle" >ys</text>
<text x="328.2" y="416.6" font-size="10.7" font-weight="normal" font-style="normal" text-anchor="middle" >pb</text>
<text x="345.6" y="416.6" font-size="10.7" font-weight="normal" font-style="normal" text-anchor="middle" >fl</text>
<rect x="286.8" y="423.7" width="10.5" height="2.6" rx="1.3" fill="#1c1c1c" opacity="1" filter="url(#bl)"/>
<rect x="286.8" y="433.4" width="10.5" height="2.2" rx="1.1" fill="#6a6a6a" opacity="0.9" filter="url(#bl)"/>
<rect x="286.8" y="437.7" width="10.5" height="2.2" rx="1.1" fill="#6a6a6a" opacity="0.9" filter="url(#bl)"/>
<rect x="286.8" y="442.1" width="10.5" height="2.2" rx="1.1" fill="#6a6a6a" opacity="0.9" filter="url(#bl)"/>
<rect x="286.8" y="429.3" width="10.5" height="3.0" rx="1.5" fill="#a8a8a8" opacity="0.8" filter="url(#bl)"/>
<rect x="286.8" y="453.5" width="10.5" height="3.0" rx="1.5" fill="#a8a8a8" opacity="0.8" filter="url(#bl)"/>
<rect x="286.8" y="457.3" width="10.5" height="3.0" rx="1.5" fill="#a8a8a8" opacity="0.8" filter="url(#bl)"/>
<rect x="303.0" y="437.0" width="9.0" height="16.0" rx="1.5" fill="#dedede" opacity="0.7" filter="url(#bl3)"/>
<rect x="301.5" y="437.6" width="12.0" height="3.2" rx="1.5" fill="#101010" opacity="1" filter="url(#bl)"/>
<rect x="303.0" y="431.1" width="9.0" height="1.8" rx="0.9" fill="#c0c0c0" opacity="0.8" filter="url(#bl)"/>
<rect x="322.3" y="438.3" width="8.0" height="1.8" rx="0.9" fill="#9c9c9c" opacity="0.85" filter="url(#bl)"/>
<rect x="341.0" y="437.0" width="9.0" height="16.0" rx="1.5" fill="#dadada" opacity="0.7" filter="url(#bl3)"/>
<rect x="339.8" y="437.6" width="11.5" height="3.2" rx="1.5" fill="#161616" opacity="1" filter="url(#bl)"/>
<rect x="341.0" y="431.1" width="9.0" height="1.8" rx="0.9" fill="#c0c0c0" opacity="0.8" filter="url(#bl)"/>
<rect x="362.5" y="419.6" width="75.0" height="46" fill="#ececec" filter="url(#bl2)"/>
<text x="398.0" y="404.6" font-size="10.2" font-weight="normal" font-style="italic" text-anchor="middle" >hprt</text>
<text x="371.7" y="416.6" font-size="10.7" font-weight="normal" font-style="normal" text-anchor="middle" >M</text>
<text x="389.4" y="416.6" font-size="10.7" font-weight="normal" font-style="normal" text-anchor="middle" >ys</text>
<text x="409.5" y="416.6" font-size="10.7" font-weight="normal" font-style="normal" text-anchor="middle" >pb</text>
<text x="427.3" y="416.6" font-size="10.7" font-weight="normal" font-style="normal" text-anchor="middle" >fl</text>
<rect x="366.1" y="424.2" width="10.5" height="2.6" rx="1.3" fill="#1c1c1c" opacity="1" filter="url(#bl)"/>
<rect x="366.1" y="433.1" width="10.5" height="2.2" rx="1.1" fill="#6a6a6a" opacity="0.9" filter="url(#bl)"/>
<rect x="366.1" y="437.1" width="10.5" height="2.2" rx="1.1" fill="#6a6a6a" opacity="0.9" filter="url(#bl)"/>
<rect x="366.1" y="442.7" width="10.5" height="2.2" rx="1.1" fill="#6a6a6a" opacity="0.9" filter="url(#bl)"/>
<rect x="366.1" y="454.7" width="10.5" height="3.0" rx="1.5" fill="#a8a8a8" opacity="0.8" filter="url(#bl)"/>
<rect x="384.5" y="440.0" width="10.0" height="14.0" rx="1.5" fill="#dcdcdc" opacity="0.7" filter="url(#bl3)"/>
<rect x="383.6" y="436.6" width="11.8" height="5.2" rx="1.5" fill="#060606" opacity="1" filter="url(#bl)"/>
<rect x="403.6" y="440.0" width="10.0" height="14.0" rx="1.5" fill="#dcdcdc" opacity="0.7" filter="url(#bl3)"/>
<rect x="402.7" y="436.6" width="11.8" height="5.2" rx="1.5" fill="#060606" opacity="1" filter="url(#bl)"/>
<rect x="422.5" y="440.0" width="10.0" height="14.0" rx="1.5" fill="#d8d8d8" opacity="0.7" filter="url(#bl3)"/>
<rect x="421.6" y="436.6" width="11.8" height="5.2" rx="1.5" fill="#060606" opacity="1" filter="url(#bl)"/>
</g>
</svg>
</body>
</html>
